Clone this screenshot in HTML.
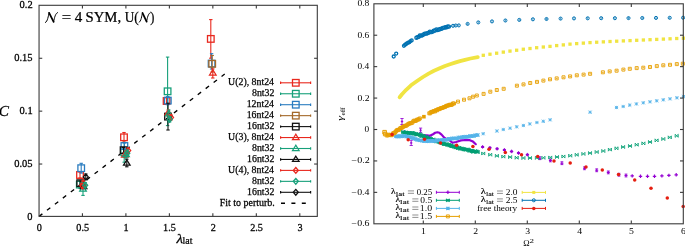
<!DOCTYPE html><html><head><meta charset="utf-8"><style>html,body{margin:0;padding:0;background:#fff;}svg{display:block;font-family:"Liberation Serif",serif;}#w{will-change:transform;width:685px;height:246px;overflow:hidden;}</style></head><body>
<div id="w"><svg width="685" height="246" viewBox="0 0 685 246">
<g font-family='"Liberation Serif", serif'>
<line x1="39.05" y1="216.4" x2="224.7" y2="74" stroke="#000" stroke-width="1.35" stroke-dasharray="4.2,5.8"/>
<line x1="80" y1="172" x2="80" y2="178" stroke="#e8281e" stroke-width="1.1"/>
<line x1="78.3" y1="172" x2="81.7" y2="172" stroke="#e8281e" stroke-width="1.1"/>
<line x1="78.3" y1="178" x2="81.7" y2="178" stroke="#e8281e" stroke-width="1.1"/>
<rect x="76.7" y="171.7" width="6.6" height="6.6" fill="none" stroke="#e8281e" stroke-width="1.3"/>
<line x1="124" y1="132.5" x2="124" y2="142.1" stroke="#e8281e" stroke-width="1.1"/>
<line x1="122.3" y1="132.5" x2="125.7" y2="132.5" stroke="#e8281e" stroke-width="1.1"/>
<line x1="122.3" y1="142.1" x2="125.7" y2="142.1" stroke="#e8281e" stroke-width="1.1"/>
<rect x="120.7" y="134" width="6.6" height="6.6" fill="none" stroke="#e8281e" stroke-width="1.3"/>
<line x1="166.6" y1="97.5" x2="166.6" y2="104.5" stroke="#e8281e" stroke-width="1.1"/>
<line x1="164.9" y1="97.5" x2="168.3" y2="97.5" stroke="#e8281e" stroke-width="1.1"/>
<line x1="164.9" y1="104.5" x2="168.3" y2="104.5" stroke="#e8281e" stroke-width="1.1"/>
<rect x="163.3" y="97.7" width="6.6" height="6.6" fill="none" stroke="#e8281e" stroke-width="1.3"/>
<line x1="210.8" y1="19.6" x2="210.8" y2="58.2" stroke="#e8281e" stroke-width="1.1"/>
<line x1="209.1" y1="19.6" x2="212.5" y2="19.6" stroke="#e8281e" stroke-width="1.1"/>
<line x1="209.1" y1="58.2" x2="212.5" y2="58.2" stroke="#e8281e" stroke-width="1.1"/>
<rect x="207.5" y="35.6" width="6.6" height="6.6" fill="none" stroke="#e8281e" stroke-width="1.3"/>
<line x1="79.8" y1="181" x2="79.8" y2="188.2" stroke="#17a07a" stroke-width="1.1"/>
<line x1="78.1" y1="181" x2="81.5" y2="181" stroke="#17a07a" stroke-width="1.1"/>
<line x1="78.1" y1="188.2" x2="81.5" y2="188.2" stroke="#17a07a" stroke-width="1.1"/>
<rect x="76.5" y="181.3" width="6.6" height="6.6" fill="none" stroke="#17a07a" stroke-width="1.3"/>
<line x1="124.2" y1="142.4" x2="124.2" y2="162.2" stroke="#17a07a" stroke-width="1.1"/>
<line x1="122.5" y1="142.4" x2="125.9" y2="142.4" stroke="#17a07a" stroke-width="1.1"/>
<line x1="122.5" y1="162.2" x2="125.9" y2="162.2" stroke="#17a07a" stroke-width="1.1"/>
<rect x="120.9" y="149" width="6.6" height="6.6" fill="none" stroke="#17a07a" stroke-width="1.3"/>
<line x1="167.6" y1="57.1" x2="167.6" y2="125.6" stroke="#17a07a" stroke-width="1.1"/>
<line x1="165.9" y1="57.1" x2="169.3" y2="57.1" stroke="#17a07a" stroke-width="1.1"/>
<line x1="165.9" y1="125.6" x2="169.3" y2="125.6" stroke="#17a07a" stroke-width="1.1"/>
<rect x="164.3" y="88" width="6.6" height="6.6" fill="none" stroke="#17a07a" stroke-width="1.3"/>
<line x1="81.2" y1="163.3" x2="81.2" y2="173.1" stroke="#2a7cc0" stroke-width="1.1"/>
<line x1="79.5" y1="163.3" x2="82.9" y2="163.3" stroke="#2a7cc0" stroke-width="1.1"/>
<line x1="79.5" y1="173.1" x2="82.9" y2="173.1" stroke="#2a7cc0" stroke-width="1.1"/>
<rect x="77.9" y="164.9" width="6.6" height="6.6" fill="none" stroke="#2a7cc0" stroke-width="1.3"/>
<line x1="124.4" y1="143" x2="124.4" y2="149" stroke="#2a7cc0" stroke-width="1.1"/>
<line x1="122.7" y1="143" x2="126.1" y2="143" stroke="#2a7cc0" stroke-width="1.1"/>
<line x1="122.7" y1="149" x2="126.1" y2="149" stroke="#2a7cc0" stroke-width="1.1"/>
<rect x="121.1" y="142.7" width="6.6" height="6.6" fill="none" stroke="#2a7cc0" stroke-width="1.3"/>
<line x1="167.8" y1="96.5" x2="167.8" y2="104.7" stroke="#2a7cc0" stroke-width="1.1"/>
<line x1="166.1" y1="96.5" x2="169.5" y2="96.5" stroke="#2a7cc0" stroke-width="1.1"/>
<line x1="166.1" y1="104.7" x2="169.5" y2="104.7" stroke="#2a7cc0" stroke-width="1.1"/>
<rect x="164.5" y="97.3" width="6.6" height="6.6" fill="none" stroke="#2a7cc0" stroke-width="1.3"/>
<line x1="211.6" y1="53.7" x2="211.6" y2="69" stroke="#2a7cc0" stroke-width="1.1"/>
<line x1="209.9" y1="53.7" x2="213.3" y2="53.7" stroke="#2a7cc0" stroke-width="1.1"/>
<line x1="209.9" y1="69" x2="213.3" y2="69" stroke="#2a7cc0" stroke-width="1.1"/>
<rect x="208.3" y="60.3" width="6.6" height="6.6" fill="none" stroke="#2a7cc0" stroke-width="1.3"/>
<line x1="212.2" y1="55.5" x2="212.2" y2="72" stroke="#a4692a" stroke-width="1.1"/>
<line x1="210.5" y1="55.5" x2="213.9" y2="55.5" stroke="#a4692a" stroke-width="1.1"/>
<line x1="210.5" y1="72" x2="213.9" y2="72" stroke="#a4692a" stroke-width="1.1"/>
<rect x="208.9" y="60.5" width="6.6" height="6.6" fill="none" stroke="#a4692a" stroke-width="1.3"/>
<line x1="80.2" y1="181" x2="80.2" y2="185.4" stroke="#111111" stroke-width="1.1"/>
<line x1="78.5" y1="181" x2="81.9" y2="181" stroke="#111111" stroke-width="1.1"/>
<line x1="78.5" y1="185.4" x2="81.9" y2="185.4" stroke="#111111" stroke-width="1.1"/>
<rect x="76.9" y="179.9" width="6.6" height="6.6" fill="none" stroke="#111111" stroke-width="1.3"/>
<line x1="123.6" y1="147.5" x2="123.6" y2="153" stroke="#111111" stroke-width="1.1"/>
<line x1="121.9" y1="147.5" x2="125.3" y2="147.5" stroke="#111111" stroke-width="1.1"/>
<line x1="121.9" y1="153" x2="125.3" y2="153" stroke="#111111" stroke-width="1.1"/>
<rect x="120.3" y="146.9" width="6.6" height="6.6" fill="none" stroke="#111111" stroke-width="1.3"/>
<line x1="168" y1="103.2" x2="168" y2="130" stroke="#111111" stroke-width="1.1"/>
<line x1="166.3" y1="103.2" x2="169.7" y2="103.2" stroke="#111111" stroke-width="1.1"/>
<line x1="166.3" y1="130" x2="169.7" y2="130" stroke="#111111" stroke-width="1.1"/>
<rect x="164.7" y="113.3" width="6.6" height="6.6" fill="none" stroke="#111111" stroke-width="1.3"/>
<line x1="83.2" y1="180.5" x2="83.2" y2="185.5" stroke="#e8281e" stroke-width="1.1"/>
<line x1="81.5" y1="180.5" x2="84.9" y2="180.5" stroke="#e8281e" stroke-width="1.1"/>
<line x1="81.5" y1="185.5" x2="84.9" y2="185.5" stroke="#e8281e" stroke-width="1.1"/>
<polygon points="83.2,179.73 79.9,185.01 86.5,185.01" fill="none" stroke="#e8281e" stroke-width="1.25"/>
<line x1="124.8" y1="153" x2="124.8" y2="157" stroke="#e8281e" stroke-width="1.1"/>
<line x1="123.1" y1="153" x2="126.5" y2="153" stroke="#e8281e" stroke-width="1.1"/>
<line x1="123.1" y1="157" x2="126.5" y2="157" stroke="#e8281e" stroke-width="1.1"/>
<polygon points="124.8,151.73 121.5,157.01 128.1,157.01" fill="none" stroke="#e8281e" stroke-width="1.25"/>
<line x1="168.2" y1="110" x2="168.2" y2="116" stroke="#e8281e" stroke-width="1.1"/>
<line x1="166.5" y1="110" x2="169.9" y2="110" stroke="#e8281e" stroke-width="1.1"/>
<line x1="166.5" y1="116" x2="169.9" y2="116" stroke="#e8281e" stroke-width="1.1"/>
<polygon points="168.2,109.53 164.9,114.81 171.5,114.81" fill="none" stroke="#e8281e" stroke-width="1.25"/>
<line x1="212.8" y1="68.9" x2="212.8" y2="78" stroke="#e8281e" stroke-width="1.1"/>
<line x1="211.1" y1="68.9" x2="214.5" y2="68.9" stroke="#e8281e" stroke-width="1.1"/>
<line x1="211.1" y1="78" x2="214.5" y2="78" stroke="#e8281e" stroke-width="1.1"/>
<polygon points="212.8,69.73 209.5,75.01 216.1,75.01" fill="none" stroke="#e8281e" stroke-width="1.25"/>
<line x1="83" y1="182.6" x2="83" y2="195.4" stroke="#17a07a" stroke-width="1.1"/>
<line x1="81.3" y1="182.6" x2="84.7" y2="182.6" stroke="#17a07a" stroke-width="1.1"/>
<line x1="81.3" y1="195.4" x2="84.7" y2="195.4" stroke="#17a07a" stroke-width="1.1"/>
<polygon points="83,185.73 79.7,191.01 86.3,191.01" fill="none" stroke="#17a07a" stroke-width="1.25"/>
<line x1="126" y1="151" x2="126" y2="158" stroke="#17a07a" stroke-width="1.1"/>
<line x1="124.3" y1="151" x2="127.7" y2="151" stroke="#17a07a" stroke-width="1.1"/>
<line x1="124.3" y1="158" x2="127.7" y2="158" stroke="#17a07a" stroke-width="1.1"/>
<polygon points="126,151.23 122.7,156.51 129.3,156.51" fill="none" stroke="#17a07a" stroke-width="1.25"/>
<line x1="168.8" y1="110" x2="168.8" y2="117.5" stroke="#17a07a" stroke-width="1.1"/>
<line x1="167.1" y1="110" x2="170.5" y2="110" stroke="#17a07a" stroke-width="1.1"/>
<line x1="167.1" y1="117.5" x2="170.5" y2="117.5" stroke="#17a07a" stroke-width="1.1"/>
<polygon points="168.8,110.53 165.5,115.81 172.1,115.81" fill="none" stroke="#17a07a" stroke-width="1.25"/>
<line x1="83.6" y1="184.5" x2="83.6" y2="188.5" stroke="#111111" stroke-width="1.1"/>
<line x1="81.9" y1="184.5" x2="85.3" y2="184.5" stroke="#111111" stroke-width="1.1"/>
<line x1="81.9" y1="188.5" x2="85.3" y2="188.5" stroke="#111111" stroke-width="1.1"/>
<polygon points="83.6,183.23 80.3,188.51 86.9,188.51" fill="none" stroke="#111111" stroke-width="1.25"/>
<line x1="126.8" y1="159.2" x2="126.8" y2="166.8" stroke="#111111" stroke-width="1.1"/>
<line x1="125.1" y1="159.2" x2="128.5" y2="159.2" stroke="#111111" stroke-width="1.1"/>
<line x1="125.1" y1="166.8" x2="128.5" y2="166.8" stroke="#111111" stroke-width="1.1"/>
<polygon points="126.8,159.93 123.5,165.21 130.1,165.21" fill="none" stroke="#111111" stroke-width="1.25"/>
<line x1="82.6" y1="183.5" x2="82.6" y2="188.5" stroke="#e8281e" stroke-width="1.1"/>
<line x1="80.9" y1="183.5" x2="84.3" y2="183.5" stroke="#e8281e" stroke-width="1.1"/>
<line x1="80.9" y1="188.5" x2="84.3" y2="188.5" stroke="#e8281e" stroke-width="1.1"/>
<polygon points="82.6,183.12 85.1,186 82.6,188.88 80.1,186" fill="none" stroke="#e8281e" stroke-width="1.3"/>
<line x1="128.2" y1="148" x2="128.2" y2="153" stroke="#e8281e" stroke-width="1.1"/>
<line x1="126.5" y1="148" x2="129.9" y2="148" stroke="#e8281e" stroke-width="1.1"/>
<line x1="126.5" y1="153" x2="129.9" y2="153" stroke="#e8281e" stroke-width="1.1"/>
<polygon points="128.2,147.62 130.7,150.5 128.2,153.38 125.7,150.5" fill="none" stroke="#e8281e" stroke-width="1.3"/>
<line x1="171" y1="115" x2="171" y2="120" stroke="#e8281e" stroke-width="1.1"/>
<line x1="169.3" y1="115" x2="172.7" y2="115" stroke="#e8281e" stroke-width="1.1"/>
<line x1="169.3" y1="120" x2="172.7" y2="120" stroke="#e8281e" stroke-width="1.1"/>
<polygon points="171,114.53 173.5,117.4 171,120.28 168.5,117.4" fill="none" stroke="#e8281e" stroke-width="1.3"/>
<line x1="85.2" y1="182.5" x2="85.2" y2="188" stroke="#17a07a" stroke-width="1.1"/>
<line x1="83.5" y1="182.5" x2="86.9" y2="182.5" stroke="#17a07a" stroke-width="1.1"/>
<line x1="83.5" y1="188" x2="86.9" y2="188" stroke="#17a07a" stroke-width="1.1"/>
<polygon points="85.2,182.32 87.7,185.2 85.2,188.07 82.7,185.2" fill="none" stroke="#17a07a" stroke-width="1.3"/>
<line x1="127.3" y1="150" x2="127.3" y2="156.4" stroke="#17a07a" stroke-width="1.1"/>
<line x1="125.6" y1="150" x2="129" y2="150" stroke="#17a07a" stroke-width="1.1"/>
<line x1="125.6" y1="156.4" x2="129" y2="156.4" stroke="#17a07a" stroke-width="1.1"/>
<polygon points="127.3,150.32 129.8,153.2 127.3,156.07 124.8,153.2" fill="none" stroke="#17a07a" stroke-width="1.3"/>
<line x1="169.6" y1="116.5" x2="169.6" y2="122" stroke="#17a07a" stroke-width="1.1"/>
<line x1="167.9" y1="116.5" x2="171.3" y2="116.5" stroke="#17a07a" stroke-width="1.1"/>
<line x1="167.9" y1="122" x2="171.3" y2="122" stroke="#17a07a" stroke-width="1.1"/>
<polygon points="169.6,116.42 172.1,119.3 169.6,122.17 167.1,119.3" fill="none" stroke="#17a07a" stroke-width="1.3"/>
<line x1="85.8" y1="174" x2="85.8" y2="179.8" stroke="#111111" stroke-width="1.1"/>
<line x1="84.1" y1="174" x2="87.5" y2="174" stroke="#111111" stroke-width="1.1"/>
<line x1="84.1" y1="179.8" x2="87.5" y2="179.8" stroke="#111111" stroke-width="1.1"/>
<polygon points="85.8,174.03 88.3,176.9 85.8,179.78 83.3,176.9" fill="none" stroke="#111111" stroke-width="1.3"/>
<rect x="39.05" y="5.3" width="278.25" height="211.1" fill="none" stroke="#3a3a3a" stroke-width="1.1"/>
<line x1="39.05" y1="164.03" x2="42.25" y2="164.03" stroke="#3a3a3a" stroke-width="1.1"/>
<line x1="317.3" y1="164.03" x2="314.1" y2="164.03" stroke="#3a3a3a" stroke-width="1.1"/>
<line x1="39.05" y1="111.15" x2="42.25" y2="111.15" stroke="#3a3a3a" stroke-width="1.1"/>
<line x1="317.3" y1="111.15" x2="314.1" y2="111.15" stroke="#3a3a3a" stroke-width="1.1"/>
<line x1="39.05" y1="58.28" x2="42.25" y2="58.28" stroke="#3a3a3a" stroke-width="1.1"/>
<line x1="317.3" y1="58.28" x2="314.1" y2="58.28" stroke="#3a3a3a" stroke-width="1.1"/>
<line x1="82.43" y1="216.4" x2="82.43" y2="213.2" stroke="#3a3a3a" stroke-width="1.1"/>
<line x1="82.43" y1="5.3" x2="82.43" y2="8.5" stroke="#3a3a3a" stroke-width="1.1"/>
<line x1="125.9" y1="216.4" x2="125.9" y2="213.2" stroke="#3a3a3a" stroke-width="1.1"/>
<line x1="125.9" y1="5.3" x2="125.9" y2="8.5" stroke="#3a3a3a" stroke-width="1.1"/>
<line x1="169.38" y1="216.4" x2="169.38" y2="213.2" stroke="#3a3a3a" stroke-width="1.1"/>
<line x1="169.38" y1="5.3" x2="169.38" y2="8.5" stroke="#3a3a3a" stroke-width="1.1"/>
<line x1="212.85" y1="216.4" x2="212.85" y2="213.2" stroke="#3a3a3a" stroke-width="1.1"/>
<line x1="212.85" y1="5.3" x2="212.85" y2="8.5" stroke="#3a3a3a" stroke-width="1.1"/>
<line x1="256.32" y1="216.4" x2="256.32" y2="213.2" stroke="#3a3a3a" stroke-width="1.1"/>
<line x1="256.32" y1="5.3" x2="256.32" y2="8.5" stroke="#3a3a3a" stroke-width="1.1"/>
<line x1="299.8" y1="216.4" x2="299.8" y2="213.2" stroke="#3a3a3a" stroke-width="1.1"/>
<line x1="299.8" y1="5.3" x2="299.8" y2="8.5" stroke="#3a3a3a" stroke-width="1.1"/>
<text transform="translate(27.27 219.5) scale(1.0500 1)" font-size="10.000" fill="#000" stroke="#000" stroke-width="0.25">0</text>
<text transform="translate(14.14 167.12) scale(1.0500 1)" font-size="10.000" fill="#000" stroke="#000" stroke-width="0.25">0.05</text>
<text transform="translate(19.61 114.25) scale(1.0500 1)" font-size="10.000" fill="#000" stroke="#000" stroke-width="0.25">0.1</text>
<text transform="translate(14.14 61.38) scale(1.0500 1)" font-size="10.000" fill="#000" stroke="#000" stroke-width="0.25">0.15</text>
<text transform="translate(19.55 8.4) scale(1.0500 1)" font-size="10.000" fill="#000" stroke="#000" stroke-width="0.25">0.2</text>
<text transform="translate(36.7 230.8) scale(1.0200 1)" font-size="10.000" fill="#000" stroke="#000" stroke-width="0.25">0</text>
<text transform="translate(76.35 230.8) scale(1.0200 1)" font-size="10.000" fill="#000" stroke="#000" stroke-width="0.25">0.5</text>
<text transform="translate(123.52 230.8) scale(1.0200 1)" font-size="10.000" fill="#000" stroke="#000" stroke-width="0.25">1</text>
<text transform="translate(163.07 230.8) scale(1.0200 1)" font-size="10.000" fill="#000" stroke="#000" stroke-width="0.25">1.5</text>
<text transform="translate(210.65 230.8) scale(1.0200 1)" font-size="10.000" fill="#000" stroke="#000" stroke-width="0.25">2</text>
<text transform="translate(250.22 230.8) scale(1.0200 1)" font-size="10.000" fill="#000" stroke="#000" stroke-width="0.25">2.5</text>
<text transform="translate(297.52 230.8) scale(1.0200 1)" font-size="10.000" fill="#000" stroke="#000" stroke-width="0.25">3</text>
<text transform="translate(-1.24 116.15) scale(0.9967 1)" font-size="15.373" font-style="italic" fill="#000" stroke="#000" stroke-width="0.25">C</text>
<text transform="translate(176.47 242.7) scale(1.1089 1)" font-size="13.475" font-style="italic" fill="#000" stroke="#000" stroke-width="0.25">λ</text>
<text transform="translate(182.6 244.2) scale(1.0112 1)" font-size="9.787" fill="#000" stroke="#000" stroke-width="0.25">lat</text>
<path d="M45.45 22.5 C47.72 21.58 48.22 15.97 49.11 12.71" stroke="#000" stroke-width="1.0" fill="none" stroke-linecap="round"/>
<path d="M49.11 12.81 L53.64 21.78" stroke="#000" stroke-width="1.75" fill="none" stroke-linecap="round"/>
<path d="M53.64 21.78 C54.52 17.5 55.28 13.42 57.55 12.6" stroke="#000" stroke-width="0.95" fill="none" stroke-linecap="round"/>
<text transform="translate(61.86 22) scale(1.1334 1)" font-size="14.800" fill="#000" stroke="#000" stroke-width="0.25">=</text>
<text transform="translate(74.7 22) scale(1.0171 1)" font-size="14.800" fill="#000" stroke="#000" stroke-width="0.25">4</text>
<text transform="translate(85.44 22) scale(0.9973 1)" font-size="14.800" fill="#000" stroke="#000" stroke-width="0.25">SYM,</text>
<text transform="translate(124.73 22) scale(0.8986 1)" font-size="14.800" fill="#000" stroke="#000" stroke-width="0.25">U(</text>
<path d="M139.13 22.3 C141.2 21.42 141.66 16.03 142.47 12.89" stroke="#000" stroke-width="1.0" fill="none" stroke-linecap="round"/>
<path d="M142.47 12.99 L146.61 21.62" stroke="#000" stroke-width="1.75" fill="none" stroke-linecap="round"/>
<path d="M146.61 21.62 C147.41 17.5 148.1 13.58 150.17 12.8" stroke="#000" stroke-width="0.95" fill="none" stroke-linecap="round"/>
<text transform="translate(150.13 22) scale(0.8316 1)" font-size="14.800" fill="#000" stroke="#000" stroke-width="0.25">)</text>
<text transform="translate(228.1 85.2) scale(1.0000 1)" font-size="9.850" fill="#000" stroke="#000" stroke-width="0.25">U(2), 8nt24</text>
<line x1="280.6" y1="82.8" x2="310.6" y2="82.8" stroke="#e8281e" stroke-width="1.1"/>
<line x1="280.6" y1="81.6" x2="280.6" y2="84" stroke="#e8281e" stroke-width="1.2"/>
<line x1="310.6" y1="81.6" x2="310.6" y2="84" stroke="#e8281e" stroke-width="1.2"/>
<rect x="292.5" y="79.5" width="6.6" height="6.6" fill="none" stroke="#e8281e" stroke-width="1.3"/>
<text transform="translate(251.98 96.15) scale(1.0000 1)" font-size="9.850" fill="#000" stroke="#000" stroke-width="0.25">8nt32</text>
<line x1="280.6" y1="93.75" x2="310.6" y2="93.75" stroke="#17a07a" stroke-width="1.1"/>
<line x1="280.6" y1="92.55" x2="280.6" y2="94.95" stroke="#17a07a" stroke-width="1.2"/>
<line x1="310.6" y1="92.55" x2="310.6" y2="94.95" stroke="#17a07a" stroke-width="1.2"/>
<rect x="292.5" y="90.45" width="6.6" height="6.6" fill="none" stroke="#17a07a" stroke-width="1.3"/>
<text transform="translate(246.66 107.1) scale(1.0000 1)" font-size="9.850" fill="#000" stroke="#000" stroke-width="0.25">12nt24</text>
<line x1="280.6" y1="104.7" x2="310.6" y2="104.7" stroke="#2a7cc0" stroke-width="1.1"/>
<line x1="280.6" y1="103.5" x2="280.6" y2="105.9" stroke="#2a7cc0" stroke-width="1.2"/>
<line x1="310.6" y1="103.5" x2="310.6" y2="105.9" stroke="#2a7cc0" stroke-width="1.2"/>
<rect x="292.5" y="101.4" width="6.6" height="6.6" fill="none" stroke="#2a7cc0" stroke-width="1.3"/>
<text transform="translate(246.66 118.05) scale(1.0000 1)" font-size="9.850" fill="#000" stroke="#000" stroke-width="0.25">16nt24</text>
<line x1="280.6" y1="115.65" x2="310.6" y2="115.65" stroke="#a4692a" stroke-width="1.1"/>
<line x1="280.6" y1="114.45" x2="280.6" y2="116.85" stroke="#a4692a" stroke-width="1.2"/>
<line x1="310.6" y1="114.45" x2="310.6" y2="116.85" stroke="#a4692a" stroke-width="1.2"/>
<rect x="292.5" y="112.35" width="6.6" height="6.6" fill="none" stroke="#a4692a" stroke-width="1.3"/>
<text transform="translate(247.06 129) scale(1.0000 1)" font-size="9.850" fill="#000" stroke="#000" stroke-width="0.25">16nt32</text>
<line x1="280.6" y1="126.6" x2="310.6" y2="126.6" stroke="#111111" stroke-width="1.1"/>
<line x1="280.6" y1="125.4" x2="280.6" y2="127.8" stroke="#111111" stroke-width="1.2"/>
<line x1="310.6" y1="125.4" x2="310.6" y2="127.8" stroke="#111111" stroke-width="1.2"/>
<rect x="292.5" y="123.3" width="6.6" height="6.6" fill="none" stroke="#111111" stroke-width="1.3"/>
<text transform="translate(228.1 139.95) scale(1.0000 1)" font-size="9.850" fill="#000" stroke="#000" stroke-width="0.25">U(3), 8nt24</text>
<line x1="280.6" y1="137.55" x2="310.6" y2="137.55" stroke="#e8281e" stroke-width="1.1"/>
<line x1="280.6" y1="136.35" x2="280.6" y2="138.75" stroke="#e8281e" stroke-width="1.2"/>
<line x1="310.6" y1="136.35" x2="310.6" y2="138.75" stroke="#e8281e" stroke-width="1.2"/>
<polygon points="295.8,134.28 292.5,139.56 299.1,139.56" fill="none" stroke="#e8281e" stroke-width="1.25"/>
<text transform="translate(251.98 150.9) scale(1.0000 1)" font-size="9.850" fill="#000" stroke="#000" stroke-width="0.25">8nt32</text>
<line x1="280.6" y1="148.5" x2="310.6" y2="148.5" stroke="#17a07a" stroke-width="1.1"/>
<line x1="280.6" y1="147.3" x2="280.6" y2="149.7" stroke="#17a07a" stroke-width="1.2"/>
<line x1="310.6" y1="147.3" x2="310.6" y2="149.7" stroke="#17a07a" stroke-width="1.2"/>
<polygon points="295.8,145.23 292.5,150.51 299.1,150.51" fill="none" stroke="#17a07a" stroke-width="1.25"/>
<text transform="translate(247.06 161.85) scale(1.0000 1)" font-size="9.850" fill="#000" stroke="#000" stroke-width="0.25">16nt32</text>
<line x1="280.6" y1="159.45" x2="310.6" y2="159.45" stroke="#111111" stroke-width="1.1"/>
<line x1="280.6" y1="158.25" x2="280.6" y2="160.65" stroke="#111111" stroke-width="1.2"/>
<line x1="310.6" y1="158.25" x2="310.6" y2="160.65" stroke="#111111" stroke-width="1.2"/>
<polygon points="295.8,156.18 292.5,161.46 299.1,161.46" fill="none" stroke="#111111" stroke-width="1.25"/>
<text transform="translate(228.1 172.8) scale(1.0000 1)" font-size="9.850" fill="#000" stroke="#000" stroke-width="0.25">U(4), 8nt24</text>
<line x1="280.6" y1="170.4" x2="310.6" y2="170.4" stroke="#e8281e" stroke-width="1.1"/>
<line x1="280.6" y1="169.2" x2="280.6" y2="171.6" stroke="#e8281e" stroke-width="1.2"/>
<line x1="310.6" y1="169.2" x2="310.6" y2="171.6" stroke="#e8281e" stroke-width="1.2"/>
<polygon points="295.8,167.52 298.3,170.4 295.8,173.27 293.3,170.4" fill="none" stroke="#e8281e" stroke-width="1.3"/>
<text transform="translate(251.98 183.75) scale(1.0000 1)" font-size="9.850" fill="#000" stroke="#000" stroke-width="0.25">8nt32</text>
<line x1="280.6" y1="181.35" x2="310.6" y2="181.35" stroke="#17a07a" stroke-width="1.1"/>
<line x1="280.6" y1="180.15" x2="280.6" y2="182.55" stroke="#17a07a" stroke-width="1.2"/>
<line x1="310.6" y1="180.15" x2="310.6" y2="182.55" stroke="#17a07a" stroke-width="1.2"/>
<polygon points="295.8,178.47 298.3,181.35 295.8,184.22 293.3,181.35" fill="none" stroke="#17a07a" stroke-width="1.3"/>
<text transform="translate(247.06 194.7) scale(1.0000 1)" font-size="9.850" fill="#000" stroke="#000" stroke-width="0.25">16nt32</text>
<line x1="280.6" y1="192.3" x2="310.6" y2="192.3" stroke="#111111" stroke-width="1.1"/>
<line x1="280.6" y1="191.1" x2="280.6" y2="193.5" stroke="#111111" stroke-width="1.2"/>
<line x1="310.6" y1="191.1" x2="310.6" y2="193.5" stroke="#111111" stroke-width="1.2"/>
<polygon points="295.8,189.43 298.3,192.3 295.8,195.18 293.3,192.3" fill="none" stroke="#111111" stroke-width="1.3"/>
<text transform="translate(219.8 206.2) scale(1.0064 1)" font-size="9.900" fill="#000" stroke="#000" stroke-width="0.25">Fit to perturb.</text>
<line x1="281" y1="203.25" x2="306" y2="203.25" stroke="#000" stroke-width="1.3" stroke-dasharray="4,6.4"/>
</g>
<g font-family='"Liberation Serif", serif'>
<line x1="402" y1="118.5" x2="402" y2="124.5" stroke="#9400d3" stroke-width="0.85"/>
<line x1="400.4" y1="118.5" x2="403.6" y2="118.5" stroke="#9400d3" stroke-width="0.85"/>
<line x1="400.4" y1="124.5" x2="403.6" y2="124.5" stroke="#9400d3" stroke-width="0.85"/>
<path d="M400.8 121.5H403.2M402 120.3V122.7" stroke="#9400d3" stroke-width="0.85" fill="none"/>
<line x1="420.6" y1="128.1" x2="420.6" y2="132.4" stroke="#9400d3" stroke-width="0.85"/>
<line x1="419" y1="128.1" x2="422.2" y2="128.1" stroke="#9400d3" stroke-width="0.85"/>
<line x1="419" y1="132.4" x2="422.2" y2="132.4" stroke="#9400d3" stroke-width="0.85"/>
<path d="M419.4 130.25H421.8M420.6 129.05V131.45" stroke="#9400d3" stroke-width="0.85" fill="none"/>
<line x1="411.2" y1="140.3" x2="411.2" y2="145.5" stroke="#9400d3" stroke-width="0.85"/>
<line x1="409.6" y1="140.3" x2="412.8" y2="140.3" stroke="#9400d3" stroke-width="0.85"/>
<line x1="409.6" y1="145.5" x2="412.8" y2="145.5" stroke="#9400d3" stroke-width="0.85"/>
<path d="M410 142.9H412.4M411.2 141.7V144.1" stroke="#9400d3" stroke-width="0.85" fill="none"/>
<path d="M404 131.5 L410 133 L416 134.3 L422 135.3 L427 135.3 L430 135.8 L433 134.2 L435.2 132.8 L437.4 132.3 L439.4 132.8 L441.6 134.6 L444.3 137.7 L447 139.3 L450 140.6 L452.4 142.8 L456 142 L461 140.4 L465 140 L469.8 140.2 L473 141.6 L475.8 144.2" stroke="#9400d3" stroke-width="2.2" fill="none" stroke-linecap="round" stroke-linejoin="round"/>
<ellipse cx="482.6" cy="146.9" rx="1.75" ry="1.2" fill="#9400d3"/>
<line x1="482.6" y1="145.1" x2="482.6" y2="148.7" stroke="#9400d3" stroke-width="0.9"/>
<ellipse cx="489.9" cy="147.8" rx="1.75" ry="1.2" fill="#9400d3"/>
<line x1="489.9" y1="146" x2="489.9" y2="149.6" stroke="#9400d3" stroke-width="0.9"/>
<ellipse cx="497.1" cy="148.8" rx="1.75" ry="1.2" fill="#9400d3"/>
<line x1="497.1" y1="147" x2="497.1" y2="150.6" stroke="#9400d3" stroke-width="0.9"/>
<ellipse cx="504.4" cy="149.9" rx="1.75" ry="1.2" fill="#9400d3"/>
<line x1="504.4" y1="148.1" x2="504.4" y2="151.7" stroke="#9400d3" stroke-width="0.9"/>
<ellipse cx="511.6" cy="151.4" rx="1.75" ry="1.2" fill="#9400d3"/>
<line x1="511.6" y1="149.6" x2="511.6" y2="153.2" stroke="#9400d3" stroke-width="0.9"/>
<ellipse cx="518.5" cy="153" rx="1.75" ry="1.2" fill="#9400d3"/>
<line x1="518.5" y1="151.2" x2="518.5" y2="154.8" stroke="#9400d3" stroke-width="0.9"/>
<ellipse cx="527.4" cy="154.7" rx="1.75" ry="1.2" fill="#9400d3"/>
<line x1="527.4" y1="152.9" x2="527.4" y2="156.5" stroke="#9400d3" stroke-width="0.9"/>
<path d="M538.3 158.2H541.3M539.8 156.7V159.7" stroke="#9400d3" stroke-width="1.1" fill="none"/>
<line x1="538.4" y1="156.8" x2="541.2" y2="156.8" stroke="#9400d3" stroke-width="0.9"/>
<line x1="538.4" y1="159.6" x2="541.2" y2="159.6" stroke="#9400d3" stroke-width="0.9"/>
<path d="M548.9 160.4H551.9M550.4 158.9V161.9" stroke="#9400d3" stroke-width="1.1" fill="none"/>
<line x1="549" y1="159" x2="551.8" y2="159" stroke="#9400d3" stroke-width="0.9"/>
<line x1="549" y1="161.8" x2="551.8" y2="161.8" stroke="#9400d3" stroke-width="0.9"/>
<path d="M560.4 163.2H563.4M561.9 161.7V164.7" stroke="#9400d3" stroke-width="1.1" fill="none"/>
<line x1="560.5" y1="161.8" x2="563.3" y2="161.8" stroke="#9400d3" stroke-width="0.9"/>
<line x1="560.5" y1="164.6" x2="563.3" y2="164.6" stroke="#9400d3" stroke-width="0.9"/>
<path d="M583 168.3H586M584.5 166.8V169.8" stroke="#9400d3" stroke-width="1.1" fill="none"/>
<line x1="583.1" y1="166.9" x2="585.9" y2="166.9" stroke="#9400d3" stroke-width="0.9"/>
<line x1="583.1" y1="169.7" x2="585.9" y2="169.7" stroke="#9400d3" stroke-width="0.9"/>
<path d="M595.2 170.3H598.2M596.7 168.8V171.8" stroke="#9400d3" stroke-width="1.1" fill="none"/>
<line x1="595.3" y1="168.9" x2="598.1" y2="168.9" stroke="#9400d3" stroke-width="0.9"/>
<line x1="595.3" y1="171.7" x2="598.1" y2="171.7" stroke="#9400d3" stroke-width="0.9"/>
<path d="M606.8 172.4H609.8M608.3 170.9V173.9" stroke="#9400d3" stroke-width="1.1" fill="none"/>
<line x1="606.9" y1="171" x2="609.7" y2="171" stroke="#9400d3" stroke-width="0.9"/>
<line x1="606.9" y1="173.8" x2="609.7" y2="173.8" stroke="#9400d3" stroke-width="0.9"/>
<path d="M617.5 174.7H620.5M619 173.2V176.2" stroke="#9400d3" stroke-width="1.1" fill="none"/>
<line x1="617.6" y1="173.3" x2="620.4" y2="173.3" stroke="#9400d3" stroke-width="0.9"/>
<line x1="617.6" y1="176.1" x2="620.4" y2="176.1" stroke="#9400d3" stroke-width="0.9"/>
<path d="M624.5 175.5H627.5M626 174V177" stroke="#9400d3" stroke-width="1.1" fill="none"/>
<line x1="624.6" y1="174.1" x2="627.4" y2="174.1" stroke="#9400d3" stroke-width="0.9"/>
<line x1="624.6" y1="176.9" x2="627.4" y2="176.9" stroke="#9400d3" stroke-width="0.9"/>
<path d="M630.5 175.9H633.9M632.2 174.2V177.6" stroke="#9400d3" stroke-width="1.2" fill="none"/>
<path d="M638.8 176.3H642.2M640.5 174.6V178" stroke="#9400d3" stroke-width="1.2" fill="none"/>
<path d="M645.8 176.3H649.2M647.5 174.6V178" stroke="#9400d3" stroke-width="1.2" fill="none"/>
<path d="M652.8 176.3H656.2M654.5 174.6V178" stroke="#9400d3" stroke-width="1.2" fill="none"/>
<path d="M660.2 175.9H663.6M661.9 174.2V177.6" stroke="#9400d3" stroke-width="1.2" fill="none"/>
<path d="M667.2 175.4H670.6M668.9 173.7V177.1" stroke="#9400d3" stroke-width="1.2" fill="none"/>
<path d="M674.5 174.8H677.9M676.2 173.1V176.5" stroke="#9400d3" stroke-width="1.2" fill="none"/>
<path d="M403.3 132.3 L408 132.8 L413 133.4 L417 134.2 L420.4 135.2 L425 137 L432 139.5 L440.7 142.6 L450 145.5 L456.9 147.5 L465 149.5 L472 150.9 L477.5 152" stroke="#009e73" stroke-width="2.6" fill="none" stroke-linecap="round" stroke-linejoin="round"/>
<path d="M401.6 130.18L405 133.58M401.6 133.58L405 130.18M401.6 130.18V133.58M405 130.18V133.58" stroke="#009e73" stroke-width="1" fill="none"/>
<path d="M402.78 131L406.18 134.4M402.78 134.4L406.18 131M402.78 131V134.4M406.18 131V134.4" stroke="#009e73" stroke-width="1" fill="none"/>
<path d="M403.95 130.79L407.35 134.19M403.95 134.19L407.35 130.79M403.95 130.79V134.19M407.35 130.79V134.19" stroke="#009e73" stroke-width="1" fill="none"/>
<path d="M405.12 131.2L408.52 134.6M405.12 134.6L408.52 131.2M405.12 131.2V134.6M408.52 131.2V134.6" stroke="#009e73" stroke-width="1" fill="none"/>
<path d="M406.3 131.58L409.7 134.98M406.3 134.98L409.7 131.58M406.3 131.58V134.98M409.7 131.58V134.98" stroke="#009e73" stroke-width="1" fill="none"/>
<path d="M407.55 131.29L410.95 134.69M407.55 134.69L410.95 131.29M407.55 131.29V134.69M410.95 131.29V134.69" stroke="#009e73" stroke-width="1" fill="none"/>
<path d="M408.8 131.4L412.2 134.8M408.8 134.8L412.2 131.4M408.8 131.4V134.8M412.2 131.4V134.8" stroke="#009e73" stroke-width="1" fill="none"/>
<path d="M410.05 131.12L413.45 134.52M410.05 134.52L413.45 131.12M410.05 131.12V134.52M413.45 131.12V134.52" stroke="#009e73" stroke-width="1" fill="none"/>
<path d="M411.3 131.47L414.7 134.87M411.3 134.87L414.7 131.47M411.3 131.47V134.87M414.7 131.47V134.87" stroke="#009e73" stroke-width="1" fill="none"/>
<path d="M412.63 131.97L416.03 135.37M412.63 135.37L416.03 131.97M412.63 131.97V135.37M416.03 131.97V135.37" stroke="#009e73" stroke-width="1" fill="none"/>
<path d="M413.97 132.41L417.37 135.81M413.97 135.81L417.37 132.41M413.97 132.41V135.81M417.37 132.41V135.81" stroke="#009e73" stroke-width="1" fill="none"/>
<path d="M415.3 132.8L418.7 136.2M415.3 136.2L418.7 132.8M415.3 132.8V136.2M418.7 132.8V136.2" stroke="#009e73" stroke-width="1" fill="none"/>
<path d="M416.43 132.71L419.83 136.11M416.43 136.11L419.83 132.71M416.43 132.71V136.11M419.83 132.71V136.11" stroke="#009e73" stroke-width="1" fill="none"/>
<path d="M417.57 132.73L420.97 136.13M417.57 136.13L420.97 132.73M417.57 132.73V136.13M420.97 132.73V136.13" stroke="#009e73" stroke-width="1" fill="none"/>
<path d="M418.7 133.29L422.1 136.69M418.7 136.69L422.1 133.29M418.7 133.29V136.69M422.1 133.29V136.69" stroke="#009e73" stroke-width="1" fill="none"/>
<path d="M419.85 134.36L423.25 137.76M419.85 137.76L423.25 134.36M419.85 134.36V137.76M423.25 134.36V137.76" stroke="#009e73" stroke-width="1" fill="none"/>
<path d="M421 134.11L424.4 137.51M421 137.51L424.4 134.11M421 134.11V137.51M424.4 134.11V137.51" stroke="#009e73" stroke-width="1" fill="none"/>
<path d="M422.15 134.8L425.55 138.2M422.15 138.2L425.55 134.8M422.15 134.8V138.2M425.55 134.8V138.2" stroke="#009e73" stroke-width="1" fill="none"/>
<path d="M423.3 135.73L426.7 139.13M423.3 139.13L426.7 135.73M423.3 135.73V139.13M426.7 135.73V139.13" stroke="#009e73" stroke-width="1" fill="none"/>
<path d="M424.47 135.24L427.87 138.64M424.47 138.64L427.87 135.24M424.47 135.24V138.64M427.87 135.24V138.64" stroke="#009e73" stroke-width="1" fill="none"/>
<path d="M425.63 136.23L429.03 139.63M425.63 139.63L429.03 136.23M425.63 136.23V139.63M429.03 136.23V139.63" stroke="#009e73" stroke-width="1" fill="none"/>
<path d="M426.8 137L430.2 140.4M426.8 140.4L430.2 137M426.8 137V140.4M430.2 137V140.4" stroke="#009e73" stroke-width="1" fill="none"/>
<path d="M427.97 136.7L431.37 140.1M427.97 140.1L431.37 136.7M427.97 136.7V140.1M431.37 136.7V140.1" stroke="#009e73" stroke-width="1" fill="none"/>
<path d="M429.13 137.43L432.53 140.83M429.13 140.83L432.53 137.43M429.13 137.43V140.83M432.53 137.43V140.83" stroke="#009e73" stroke-width="1" fill="none"/>
<path d="M430.3 138.21L433.7 141.61M430.3 141.61L433.7 138.21M430.3 138.21V141.61M433.7 138.21V141.61" stroke="#009e73" stroke-width="1" fill="none"/>
<path d="M431.39 137.82L434.79 141.22M431.39 141.22L434.79 137.82M431.39 137.82V141.22M434.79 137.82V141.22" stroke="#009e73" stroke-width="1" fill="none"/>
<path d="M432.48 138.6L435.88 142M432.48 142L435.88 138.6M432.48 138.6V142M435.88 138.6V142" stroke="#009e73" stroke-width="1" fill="none"/>
<path d="M433.56 139.21L436.96 142.61M433.56 142.61L436.96 139.21M433.56 139.21V142.61M436.96 139.21V142.61" stroke="#009e73" stroke-width="1" fill="none"/>
<path d="M434.65 139.52L438.05 142.92M434.65 142.92L438.05 139.52M434.65 139.52V142.92M438.05 139.52V142.92" stroke="#009e73" stroke-width="1" fill="none"/>
<path d="M435.74 139.71L439.14 143.11M435.74 143.11L439.14 139.71M435.74 139.71V143.11M439.14 139.71V143.11" stroke="#009e73" stroke-width="1" fill="none"/>
<path d="M436.82 139.83L440.22 143.23M436.82 143.23L440.22 139.83M436.82 139.83V143.23M440.22 139.83V143.23" stroke="#009e73" stroke-width="1" fill="none"/>
<path d="M437.91 140.5L441.31 143.9M437.91 143.9L441.31 140.5M437.91 140.5V143.9M441.31 140.5V143.9" stroke="#009e73" stroke-width="1" fill="none"/>
<path d="M439 140.77L442.4 144.17M439 144.17L442.4 140.77M439 140.77V144.17M442.4 140.77V144.17" stroke="#009e73" stroke-width="1" fill="none"/>
<path d="M440.16 141.24L443.56 144.64M440.16 144.64L443.56 141.24M440.16 141.24V144.64M443.56 141.24V144.64" stroke="#009e73" stroke-width="1" fill="none"/>
<path d="M441.32 141.49L444.72 144.89M441.32 144.89L444.72 141.49M441.32 141.49V144.89M444.72 141.49V144.89" stroke="#009e73" stroke-width="1" fill="none"/>
<path d="M442.49 142.33L445.89 145.73M442.49 145.73L445.89 142.33M442.49 142.33V145.73M445.89 142.33V145.73" stroke="#009e73" stroke-width="1" fill="none"/>
<path d="M443.65 142.62L447.05 146.02M443.65 146.02L447.05 142.62M443.65 142.62V146.02M447.05 142.62V146.02" stroke="#009e73" stroke-width="1" fill="none"/>
<path d="M444.81 142.53L448.21 145.93M444.81 145.93L448.21 142.53M444.81 142.53V145.93M448.21 142.53V145.93" stroke="#009e73" stroke-width="1" fill="none"/>
<path d="M445.98 143.15L449.38 146.55M445.98 146.55L449.38 143.15M445.98 143.15V146.55M449.38 143.15V146.55" stroke="#009e73" stroke-width="1" fill="none"/>
<path d="M447.14 143.21L450.54 146.61M447.14 146.61L450.54 143.21M447.14 143.21V146.61M450.54 143.21V146.61" stroke="#009e73" stroke-width="1" fill="none"/>
<path d="M448.3 143.75L451.7 147.15M448.3 147.15L451.7 143.75M448.3 143.75V147.15M451.7 143.75V147.15" stroke="#009e73" stroke-width="1" fill="none"/>
<path d="M449.45 143.99L452.85 147.39M449.45 147.39L452.85 143.99M449.45 143.99V147.39M452.85 143.99V147.39" stroke="#009e73" stroke-width="1" fill="none"/>
<path d="M450.6 144.62L454 148.02M450.6 148.02L454 144.62M450.6 144.62V148.02M454 144.62V148.02" stroke="#009e73" stroke-width="1" fill="none"/>
<path d="M451.75 144.67L455.15 148.07M451.75 148.07L455.15 144.67M451.75 144.67V148.07M455.15 144.67V148.07" stroke="#009e73" stroke-width="1" fill="none"/>
<path d="M452.9 145.09L456.3 148.49M452.9 148.49L456.3 145.09M452.9 145.09V148.49M456.3 145.09V148.49" stroke="#009e73" stroke-width="1" fill="none"/>
<path d="M454.05 145.69L457.45 149.09M454.05 149.09L457.45 145.69M454.05 145.69V149.09M457.45 145.69V149.09" stroke="#009e73" stroke-width="1" fill="none"/>
<path d="M455.2 145.71L458.6 149.11M455.2 149.11L458.6 145.71M455.2 145.71V149.11M458.6 145.71V149.11" stroke="#009e73" stroke-width="1" fill="none"/>
<path d="M456.36 146.49L459.76 149.89M456.36 149.89L459.76 146.49M456.36 146.49V149.89M459.76 146.49V149.89" stroke="#009e73" stroke-width="1" fill="none"/>
<path d="M457.51 146.05L460.91 149.45M457.51 149.45L460.91 146.05M457.51 146.05V149.45M460.91 146.05V149.45" stroke="#009e73" stroke-width="1" fill="none"/>
<path d="M458.67 146.9L462.07 150.3M458.67 150.3L462.07 146.9M458.67 146.9V150.3M462.07 146.9V150.3" stroke="#009e73" stroke-width="1" fill="none"/>
<path d="M459.83 146.87L463.23 150.27M459.83 150.27L463.23 146.87M459.83 146.87V150.27M463.23 146.87V150.27" stroke="#009e73" stroke-width="1" fill="none"/>
<path d="M460.99 147.16L464.39 150.56M460.99 150.56L464.39 147.16M460.99 147.16V150.56M464.39 147.16V150.56" stroke="#009e73" stroke-width="1" fill="none"/>
<path d="M462.14 147.65L465.54 151.05M462.14 151.05L465.54 147.65M462.14 147.65V151.05M465.54 147.65V151.05" stroke="#009e73" stroke-width="1" fill="none"/>
<path d="M463.3 147.82L466.7 151.22M463.3 151.22L466.7 147.82M463.3 147.82V151.22M466.7 147.82V151.22" stroke="#009e73" stroke-width="1" fill="none"/>
<path d="M464.47 147.95L467.87 151.35M464.47 151.35L467.87 147.95M464.47 147.95V151.35M467.87 147.95V151.35" stroke="#009e73" stroke-width="1" fill="none"/>
<path d="M465.63 147.77L469.03 151.17M465.63 151.17L469.03 147.77M465.63 147.77V151.17M469.03 147.77V151.17" stroke="#009e73" stroke-width="1" fill="none"/>
<path d="M466.8 148.09L470.2 151.49M466.8 151.49L470.2 148.09M466.8 148.09V151.49M470.2 148.09V151.49" stroke="#009e73" stroke-width="1" fill="none"/>
<path d="M467.97 148.94L471.37 152.34M467.97 152.34L471.37 148.94M467.97 148.94V152.34M471.37 148.94V152.34" stroke="#009e73" stroke-width="1" fill="none"/>
<path d="M469.13 148.99L472.53 152.39M469.13 152.39L472.53 148.99M469.13 148.99V152.39M472.53 148.99V152.39" stroke="#009e73" stroke-width="1" fill="none"/>
<path d="M470.3 149.4L473.7 152.8M470.3 152.8L473.7 149.4M470.3 149.4V152.8M473.7 149.4V152.8" stroke="#009e73" stroke-width="1" fill="none"/>
<path d="M471.4 149.88L474.8 153.28M471.4 153.28L474.8 149.88M471.4 149.88V153.28M474.8 149.88V153.28" stroke="#009e73" stroke-width="1" fill="none"/>
<path d="M472.5 149.82L475.9 153.22M472.5 153.22L475.9 149.82M472.5 149.82V153.22M475.9 149.82V153.22" stroke="#009e73" stroke-width="1" fill="none"/>
<path d="M473.6 149.41L477 152.81M473.6 152.81L477 149.41M473.6 149.41V152.81M477 149.41V152.81" stroke="#009e73" stroke-width="1" fill="none"/>
<path d="M474.7 149.89L478.1 153.29M474.7 153.29L478.1 149.89M474.7 149.89V153.29M478.1 149.89V153.29" stroke="#009e73" stroke-width="1" fill="none"/>
<path d="M475.8 150.3L479.2 153.7M475.8 153.7L479.2 150.3M475.8 150.3V153.7M479.2 150.3V153.7" stroke="#009e73" stroke-width="1" fill="none"/>
<path d="M481.65 151.95L484.75 155.05M481.65 155.05L484.75 151.95M481.65 151.95V155.05M484.75 151.95V155.05" stroke="#009e73" stroke-width="0.85" fill="none"/>
<path d="M488.65 153.15L491.75 156.25M488.65 156.25L491.75 153.15M488.65 153.15V156.25M491.75 153.15V156.25" stroke="#009e73" stroke-width="0.85" fill="none"/>
<path d="M495.35 154.25L498.45 157.35M495.35 157.35L498.45 154.25M495.35 154.25V157.35M498.45 154.25V157.35" stroke="#009e73" stroke-width="0.85" fill="none"/>
<path d="M501.75 155.05L504.85 158.15M501.75 158.15L504.85 155.05M501.75 155.05V158.15M504.85 155.05V158.15" stroke="#009e73" stroke-width="0.85" fill="none"/>
<path d="M508.55 155.55L511.65 158.65M508.55 158.65L511.65 155.55M508.55 155.55V158.65M511.65 155.55V158.65" stroke="#009e73" stroke-width="0.85" fill="none"/>
<path d="M515.15 156.15L518.25 159.25M515.15 159.25L518.25 156.15M515.15 156.15V159.25M518.25 156.15V159.25" stroke="#009e73" stroke-width="0.85" fill="none"/>
<path d="M521.85 156.45L524.95 159.55M521.85 159.55L524.95 156.45M521.85 156.45V159.55M524.95 156.45V159.55" stroke="#009e73" stroke-width="0.85" fill="none"/>
<path d="M528.45 156.45L531.55 159.55M528.45 159.55L531.55 156.45M528.45 156.45V159.55M531.55 156.45V159.55" stroke="#009e73" stroke-width="0.85" fill="none"/>
<path d="M535.35 156.35L538.45 159.45M535.35 159.45L538.45 156.35M535.35 156.35V159.45M538.45 156.35V159.45" stroke="#009e73" stroke-width="0.85" fill="none"/>
<path d="M541.85 156.25L544.95 159.35M541.85 159.35L544.95 156.25M541.85 156.25V159.35M544.95 156.25V159.35" stroke="#009e73" stroke-width="0.85" fill="none"/>
<path d="M548.65 155.95L551.75 159.05M548.65 159.05L551.75 155.95M548.65 155.95V159.05M551.75 155.95V159.05" stroke="#009e73" stroke-width="0.85" fill="none"/>
<path d="M555.45 155.45L558.55 158.55M555.45 158.55L558.55 155.45M555.45 155.45V158.55M558.55 155.45V158.55" stroke="#009e73" stroke-width="0.85" fill="none"/>
<path d="M561.85 154.95L564.95 158.05M561.85 158.05L564.95 154.95M561.85 154.95V158.05M564.95 154.95V158.05" stroke="#009e73" stroke-width="0.85" fill="none"/>
<path d="M568.65 154.15L571.75 157.25M568.65 157.25L571.75 154.15M568.65 154.15V157.25M571.75 154.15V157.25" stroke="#009e73" stroke-width="0.85" fill="none"/>
<path d="M575.15 153.25L578.25 156.35M575.15 156.35L578.25 153.25M575.15 153.25V156.35M578.25 153.25V156.35" stroke="#009e73" stroke-width="0.85" fill="none"/>
<path d="M581.85 152.35L584.95 155.45M581.85 155.45L584.95 152.35M581.85 152.35V155.45M584.95 152.35V155.45" stroke="#009e73" stroke-width="0.85" fill="none"/>
<path d="M588.45 151.55L591.55 154.65M588.45 154.65L591.55 151.55M588.45 151.55V154.65M591.55 151.55V154.65" stroke="#009e73" stroke-width="0.85" fill="none"/>
<path d="M595.15 150.45L598.25 153.55M595.15 153.55L598.25 150.45M595.15 150.45V153.55M598.25 150.45V153.55" stroke="#009e73" stroke-width="0.85" fill="none"/>
<path d="M601.75 149.45L604.85 152.55M601.75 152.55L604.85 149.45M601.75 149.45V152.55M604.85 149.45V152.55" stroke="#009e73" stroke-width="0.85" fill="none"/>
<path d="M608.35 148.05L611.45 151.15M608.35 151.15L611.45 148.05M608.35 148.05V151.15M611.45 148.05V151.15" stroke="#009e73" stroke-width="0.85" fill="none"/>
<path d="M614.95 146.75L618.05 149.85M614.95 149.85L618.05 146.75M614.95 146.75V149.85M618.05 146.75V149.85" stroke="#009e73" stroke-width="0.85" fill="none"/>
<path d="M621.55 145.45L624.65 148.55M621.55 148.55L624.65 145.45M621.55 145.45V148.55M624.65 145.45V148.55" stroke="#009e73" stroke-width="0.85" fill="none"/>
<path d="M628.45 144.45L631.55 147.55M628.45 147.55L631.55 144.45M628.45 144.45V147.55M631.55 144.45V147.55" stroke="#009e73" stroke-width="0.85" fill="none"/>
<path d="M635.15 143.15L638.25 146.25M635.15 146.25L638.25 143.15M635.15 143.15V146.25M638.25 143.15V146.25" stroke="#009e73" stroke-width="0.85" fill="none"/>
<path d="M641.85 141.85L644.95 144.95M641.85 144.95L644.95 141.85M641.85 141.85V144.95M644.95 141.85V144.95" stroke="#009e73" stroke-width="0.85" fill="none"/>
<path d="M648.45 140.45L651.55 143.55M648.45 143.55L651.55 140.45M648.45 140.45V143.55M651.55 140.45V143.55" stroke="#009e73" stroke-width="0.85" fill="none"/>
<path d="M655.05 138.85L658.15 141.95M655.05 141.95L658.15 138.85M655.05 138.85V141.95M658.15 138.85V141.95" stroke="#009e73" stroke-width="0.85" fill="none"/>
<path d="M661.75 137.45L664.85 140.55M661.75 140.55L664.85 137.45M661.75 137.45V140.55M664.85 137.45V140.55" stroke="#009e73" stroke-width="0.85" fill="none"/>
<path d="M668.25 135.85L671.35 138.95M668.25 138.95L671.35 135.85M668.25 135.85V138.95M671.35 135.85V138.95" stroke="#009e73" stroke-width="0.85" fill="none"/>
<path d="M675.15 134.25L678.25 137.35M675.15 137.35L678.25 134.25M675.15 134.25V137.35M678.25 134.25V137.35" stroke="#009e73" stroke-width="0.85" fill="none"/>
<path d="M395.8 136.4 L400 136 L405 136.2 L409 137 L413 138.3 L417 139.6 L421 140.5 L425 140.9 L430 141 L435 140.8 L440 140.3 L445 139.7 L450 139 L455 138.3 L460 137.6 L465 137 L470 136.3 L474 135.7 L477.8 135.1" stroke="#56b4e9" stroke-width="2.8" fill="none" stroke-linecap="round" stroke-linejoin="round"/>
<path d="M394.1 134.79L397.5 138.19M394.1 138.19L397.5 134.79M394.1 136.49H397.5M395.8 134.79V138.19" stroke="#56b4e9" stroke-width="1" fill="none"/>
<path d="M395.15 134.34L398.55 137.74M395.15 137.74L398.55 134.34M395.15 136.04H398.55M396.85 134.34V137.74" stroke="#56b4e9" stroke-width="1" fill="none"/>
<path d="M396.2 134.96L399.6 138.36M396.2 138.36L399.6 134.96M396.2 136.66H399.6M397.9 134.96V138.36" stroke="#56b4e9" stroke-width="1" fill="none"/>
<path d="M397.25 134.85L400.65 138.25M397.25 138.25L400.65 134.85M397.25 136.55H400.65M398.95 134.85V138.25" stroke="#56b4e9" stroke-width="1" fill="none"/>
<path d="M398.3 134.65L401.7 138.05M398.3 138.05L401.7 134.65M398.3 136.35H401.7M400 134.65V138.05" stroke="#56b4e9" stroke-width="1" fill="none"/>
<path d="M399.55 134.32L402.95 137.72M399.55 137.72L402.95 134.32M399.55 136.02H402.95M401.25 134.32V137.72" stroke="#56b4e9" stroke-width="1" fill="none"/>
<path d="M400.8 134.74L404.2 138.14M400.8 138.14L404.2 134.74M400.8 136.44H404.2M402.5 134.74V138.14" stroke="#56b4e9" stroke-width="1" fill="none"/>
<path d="M402.05 134.08L405.45 137.48M402.05 137.48L405.45 134.08M402.05 135.78H405.45M403.75 134.08V137.48" stroke="#56b4e9" stroke-width="1" fill="none"/>
<path d="M403.3 134.31L406.7 137.71M403.3 137.71L406.7 134.31M403.3 136.01H406.7M405 134.31V137.71" stroke="#56b4e9" stroke-width="1" fill="none"/>
<path d="M404.63 134.73L408.03 138.13M404.63 138.13L408.03 134.73M404.63 136.43H408.03M406.33 134.73V138.13" stroke="#56b4e9" stroke-width="1" fill="none"/>
<path d="M405.97 135.28L409.37 138.68M405.97 138.68L409.37 135.28M405.97 136.98H409.37M407.67 135.28V138.68" stroke="#56b4e9" stroke-width="1" fill="none"/>
<path d="M407.3 135.29L410.7 138.69M407.3 138.69L410.7 135.29M407.3 136.99H410.7M409 135.29V138.69" stroke="#56b4e9" stroke-width="1" fill="none"/>
<path d="M408.3 135.26L411.7 138.66M408.3 138.66L411.7 135.26M408.3 136.96H411.7M410 135.26V138.66" stroke="#56b4e9" stroke-width="1" fill="none"/>
<path d="M409.3 135.79L412.7 139.19M409.3 139.19L412.7 135.79M409.3 137.49H412.7M411 135.79V139.19" stroke="#56b4e9" stroke-width="1" fill="none"/>
<path d="M410.3 136.1L413.7 139.5M410.3 139.5L413.7 136.1M410.3 137.8H413.7M412 136.1V139.5" stroke="#56b4e9" stroke-width="1" fill="none"/>
<path d="M411.3 136.4L414.7 139.8M411.3 139.8L414.7 136.4M411.3 138.1H414.7M413 136.4V139.8" stroke="#56b4e9" stroke-width="1" fill="none"/>
<path d="M412.3 136.59L415.7 139.99M412.3 139.99L415.7 136.59M412.3 138.29H415.7M414 136.59V139.99" stroke="#56b4e9" stroke-width="1" fill="none"/>
<path d="M413.3 137.16L416.7 140.56M413.3 140.56L416.7 137.16M413.3 138.86H416.7M415 137.16V140.56" stroke="#56b4e9" stroke-width="1" fill="none"/>
<path d="M414.3 137.52L417.7 140.92M414.3 140.92L417.7 137.52M414.3 139.22H417.7M416 137.52V140.92" stroke="#56b4e9" stroke-width="1" fill="none"/>
<path d="M415.3 138.17L418.7 141.57M415.3 141.57L418.7 138.17M415.3 139.87H418.7M417 138.17V141.57" stroke="#56b4e9" stroke-width="1" fill="none"/>
<path d="M416.63 138.5L420.03 141.9M416.63 141.9L420.03 138.5M416.63 140.2H420.03M418.33 138.5V141.9" stroke="#56b4e9" stroke-width="1" fill="none"/>
<path d="M417.97 138.52L421.37 141.92M417.97 141.92L421.37 138.52M417.97 140.22H421.37M419.67 138.52V141.92" stroke="#56b4e9" stroke-width="1" fill="none"/>
<path d="M419.3 138.76L422.7 142.16M419.3 142.16L422.7 138.76M419.3 140.46H422.7M421 138.76V142.16" stroke="#56b4e9" stroke-width="1" fill="none"/>
<path d="M420.63 139.21L424.03 142.61M420.63 142.61L424.03 139.21M420.63 140.91H424.03M422.33 139.21V142.61" stroke="#56b4e9" stroke-width="1" fill="none"/>
<path d="M421.97 139.45L425.37 142.85M421.97 142.85L425.37 139.45M421.97 141.15H425.37M423.67 139.45V142.85" stroke="#56b4e9" stroke-width="1" fill="none"/>
<path d="M423.3 139.37L426.7 142.77M423.3 142.77L426.7 139.37M423.3 141.07H426.7M425 139.37V142.77" stroke="#56b4e9" stroke-width="1" fill="none"/>
<path d="M424.55 139.53L427.95 142.93M424.55 142.93L427.95 139.53M424.55 141.23H427.95M426.25 139.53V142.93" stroke="#56b4e9" stroke-width="1" fill="none"/>
<path d="M425.8 139.69L429.2 143.09M425.8 143.09L429.2 139.69M425.8 141.39H429.2M427.5 139.69V143.09" stroke="#56b4e9" stroke-width="1" fill="none"/>
<path d="M427.05 138.82L430.45 142.22M427.05 142.22L430.45 138.82M427.05 140.52H430.45M428.75 138.82V142.22" stroke="#56b4e9" stroke-width="1" fill="none"/>
<path d="M428.3 139.68L431.7 143.08M428.3 143.08L431.7 139.68M428.3 141.38H431.7M430 139.68V143.08" stroke="#56b4e9" stroke-width="1" fill="none"/>
<path d="M429.55 139.03L432.95 142.43M429.55 142.43L432.95 139.03M429.55 140.73H432.95M431.25 139.03V142.43" stroke="#56b4e9" stroke-width="1" fill="none"/>
<path d="M430.8 139.18L434.2 142.58M430.8 142.58L434.2 139.18M430.8 140.88H434.2M432.5 139.18V142.58" stroke="#56b4e9" stroke-width="1" fill="none"/>
<path d="M432.05 139.45L435.45 142.85M432.05 142.85L435.45 139.45M432.05 141.15H435.45M433.75 139.45V142.85" stroke="#56b4e9" stroke-width="1" fill="none"/>
<path d="M433.3 139.32L436.7 142.72M433.3 142.72L436.7 139.32M433.3 141.02H436.7M435 139.32V142.72" stroke="#56b4e9" stroke-width="1" fill="none"/>
<path d="M434.55 138.62L437.95 142.02M434.55 142.02L437.95 138.62M434.55 140.32H437.95M436.25 138.62V142.02" stroke="#56b4e9" stroke-width="1" fill="none"/>
<path d="M435.8 139.01L439.2 142.41M435.8 142.41L439.2 139.01M435.8 140.71H439.2M437.5 139.01V142.41" stroke="#56b4e9" stroke-width="1" fill="none"/>
<path d="M437.05 138.29L440.45 141.69M437.05 141.69L440.45 138.29M437.05 139.99H440.45M438.75 138.29V141.69" stroke="#56b4e9" stroke-width="1" fill="none"/>
<path d="M438.3 138.46L441.7 141.86M438.3 141.86L441.7 138.46M438.3 140.16H441.7M440 138.46V141.86" stroke="#56b4e9" stroke-width="1" fill="none"/>
<path d="M439.55 138.76L442.95 142.16M439.55 142.16L442.95 138.76M439.55 140.46H442.95M441.25 138.76V142.16" stroke="#56b4e9" stroke-width="1" fill="none"/>
<path d="M440.8 138.23L444.2 141.63M440.8 141.63L444.2 138.23M440.8 139.93H444.2M442.5 138.23V141.63" stroke="#56b4e9" stroke-width="1" fill="none"/>
<path d="M442.05 138.25L445.45 141.65M442.05 141.65L445.45 138.25M442.05 139.95H445.45M443.75 138.25V141.65" stroke="#56b4e9" stroke-width="1" fill="none"/>
<path d="M443.3 138.23L446.7 141.63M443.3 141.63L446.7 138.23M443.3 139.93H446.7M445 138.23V141.63" stroke="#56b4e9" stroke-width="1" fill="none"/>
<path d="M444.55 138.15L447.95 141.55M444.55 141.55L447.95 138.15M444.55 139.85H447.95M446.25 138.15V141.55" stroke="#56b4e9" stroke-width="1" fill="none"/>
<path d="M445.8 137.91L449.2 141.31M445.8 141.31L449.2 137.91M445.8 139.61H449.2M447.5 137.91V141.31" stroke="#56b4e9" stroke-width="1" fill="none"/>
<path d="M447.05 136.98L450.45 140.38M447.05 140.38L450.45 136.98M447.05 138.68H450.45M448.75 136.98V140.38" stroke="#56b4e9" stroke-width="1" fill="none"/>
<path d="M448.3 137.22L451.7 140.62M448.3 140.62L451.7 137.22M448.3 138.92H451.7M450 137.22V140.62" stroke="#56b4e9" stroke-width="1" fill="none"/>
<path d="M449.55 137.09L452.95 140.49M449.55 140.49L452.95 137.09M449.55 138.79H452.95M451.25 137.09V140.49" stroke="#56b4e9" stroke-width="1" fill="none"/>
<path d="M450.8 136.51L454.2 139.91M450.8 139.91L454.2 136.51M450.8 138.21H454.2M452.5 136.51V139.91" stroke="#56b4e9" stroke-width="1" fill="none"/>
<path d="M452.05 136.82L455.45 140.22M452.05 140.22L455.45 136.82M452.05 138.52H455.45M453.75 136.82V140.22" stroke="#56b4e9" stroke-width="1" fill="none"/>
<path d="M453.3 136.71L456.7 140.11M453.3 140.11L456.7 136.71M453.3 138.41H456.7M455 136.71V140.11" stroke="#56b4e9" stroke-width="1" fill="none"/>
<path d="M454.55 136.75L457.95 140.15M454.55 140.15L457.95 136.75M454.55 138.45H457.95M456.25 136.75V140.15" stroke="#56b4e9" stroke-width="1" fill="none"/>
<path d="M455.8 136.69L459.2 140.09M455.8 140.09L459.2 136.69M455.8 138.39H459.2M457.5 136.69V140.09" stroke="#56b4e9" stroke-width="1" fill="none"/>
<path d="M457.05 135.7L460.45 139.1M457.05 139.1L460.45 135.7M457.05 137.4H460.45M458.75 135.7V139.1" stroke="#56b4e9" stroke-width="1" fill="none"/>
<path d="M458.3 135.63L461.7 139.03M458.3 139.03L461.7 135.63M458.3 137.33H461.7M460 135.63V139.03" stroke="#56b4e9" stroke-width="1" fill="none"/>
<path d="M459.55 135.91L462.95 139.31M459.55 139.31L462.95 135.91M459.55 137.61H462.95M461.25 135.91V139.31" stroke="#56b4e9" stroke-width="1" fill="none"/>
<path d="M460.8 135.23L464.2 138.63M460.8 138.63L464.2 135.23M460.8 136.93H464.2M462.5 135.23V138.63" stroke="#56b4e9" stroke-width="1" fill="none"/>
<path d="M462.05 135.17L465.45 138.57M462.05 138.57L465.45 135.17M462.05 136.87H465.45M463.75 135.17V138.57" stroke="#56b4e9" stroke-width="1" fill="none"/>
<path d="M463.3 135.37L466.7 138.77M463.3 138.77L466.7 135.37M463.3 137.07H466.7M465 135.37V138.77" stroke="#56b4e9" stroke-width="1" fill="none"/>
<path d="M464.55 134.79L467.95 138.19M464.55 138.19L467.95 134.79M464.55 136.49H467.95M466.25 134.79V138.19" stroke="#56b4e9" stroke-width="1" fill="none"/>
<path d="M465.8 135.23L469.2 138.63M465.8 138.63L469.2 135.23M465.8 136.93H469.2M467.5 135.23V138.63" stroke="#56b4e9" stroke-width="1" fill="none"/>
<path d="M467.05 135.13L470.45 138.53M467.05 138.53L470.45 135.13M467.05 136.83H470.45M468.75 135.13V138.53" stroke="#56b4e9" stroke-width="1" fill="none"/>
<path d="M468.3 134.13L471.7 137.53M468.3 137.53L471.7 134.13M468.3 135.83H471.7M470 134.13V137.53" stroke="#56b4e9" stroke-width="1" fill="none"/>
<path d="M469.63 134.43L473.03 137.83M469.63 137.83L473.03 134.43M469.63 136.13H473.03M471.33 134.43V137.83" stroke="#56b4e9" stroke-width="1" fill="none"/>
<path d="M470.97 134.5L474.37 137.9M470.97 137.9L474.37 134.5M470.97 136.2H474.37M472.67 134.5V137.9" stroke="#56b4e9" stroke-width="1" fill="none"/>
<path d="M472.3 134.48L475.7 137.88M472.3 137.88L475.7 134.48M472.3 136.18H475.7M474 134.48V137.88" stroke="#56b4e9" stroke-width="1" fill="none"/>
<path d="M473.57 133.57L476.97 136.97M473.57 136.97L476.97 133.57M473.57 135.27H476.97M475.27 133.57V136.97" stroke="#56b4e9" stroke-width="1" fill="none"/>
<path d="M474.83 133.27L478.23 136.67M474.83 136.67L478.23 133.27M474.83 134.97H478.23M476.53 133.27V136.67" stroke="#56b4e9" stroke-width="1" fill="none"/>
<path d="M476.1 133.4L479.5 136.8M476.1 136.8L479.5 133.4M476.1 135.1H479.5M477.8 133.4V136.8" stroke="#56b4e9" stroke-width="1" fill="none"/>
<path d="M481.6 132.1L484.8 135.3M481.6 135.3L484.8 132.1M481.6 133.7H484.8M483.2 132.1V135.3" stroke="#56b4e9" stroke-width="0.85" fill="none"/>
<path d="M495.3 129.4L498.5 132.6M495.3 132.6L498.5 129.4M495.3 131H498.5M496.9 129.4V132.6" stroke="#56b4e9" stroke-width="0.85" fill="none"/>
<path d="M501.7 127.9L504.9 131.1M501.7 131.1L504.9 127.9M501.7 129.5H504.9M503.3 127.9V131.1" stroke="#56b4e9" stroke-width="0.85" fill="none"/>
<path d="M508.5 126.6L511.7 129.8M508.5 129.8L511.7 126.6M508.5 128.2H511.7M510.1 126.6V129.8" stroke="#56b4e9" stroke-width="0.85" fill="none"/>
<path d="M515.1 125.2L518.3 128.4M515.1 128.4L518.3 125.2M515.1 126.8H518.3M516.7 125.2V128.4" stroke="#56b4e9" stroke-width="0.85" fill="none"/>
<path d="M521.8 123.9L525 127.1M521.8 127.1L525 123.9M521.8 125.5H525M523.4 123.9V127.1" stroke="#56b4e9" stroke-width="0.85" fill="none"/>
<path d="M528.2 122.3L531.4 125.5M528.2 125.5L531.4 122.3M528.2 123.9H531.4M529.8 122.3V125.5" stroke="#56b4e9" stroke-width="0.85" fill="none"/>
<path d="M535.3 120.9L538.5 124.1M535.3 124.1L538.5 120.9M535.3 122.5H538.5M536.9 120.9V124.1" stroke="#56b4e9" stroke-width="0.85" fill="none"/>
<path d="M541.7 119.7L544.9 122.9M541.7 122.9L544.9 119.7M541.7 121.3H544.9M543.3 119.7V122.9" stroke="#56b4e9" stroke-width="0.85" fill="none"/>
<path d="M548.5 118.2L551.7 121.4M548.5 121.4L551.7 118.2M548.5 119.8H551.7M550.1 118.2V121.4" stroke="#56b4e9" stroke-width="0.85" fill="none"/>
<path d="M588.5 110.6L591.7 113.8M588.5 113.8L591.7 110.6M588.5 112.2H591.7M590.1 110.6V113.8" stroke="#56b4e9" stroke-width="0.85" fill="none"/>
<path d="M614.9 105.9L618.1 109.1M614.9 109.1L618.1 105.9M614.9 107.5H618.1M616.5 105.9V109.1" stroke="#56b4e9" stroke-width="0.85" fill="none"/>
<path d="M621.6 104.9L624.8 108.1M621.6 108.1L624.8 104.9M621.6 106.5H624.8M623.2 104.9V108.1" stroke="#56b4e9" stroke-width="0.85" fill="none"/>
<path d="M628.1 103.5L631.3 106.7M628.1 106.7L631.3 103.5M628.1 105.1H631.3M629.7 103.5V106.7" stroke="#56b4e9" stroke-width="0.85" fill="none"/>
<path d="M634.8 102.3L638 105.5M634.8 105.5L638 102.3M634.8 103.9H638M636.4 102.3V105.5" stroke="#56b4e9" stroke-width="0.85" fill="none"/>
<path d="M641.7 101.2L644.9 104.4M641.7 104.4L644.9 101.2M641.7 102.8H644.9M643.3 101.2V104.4" stroke="#56b4e9" stroke-width="0.85" fill="none"/>
<path d="M648.4 100.2L651.6 103.4M648.4 103.4L651.6 100.2M648.4 101.8H651.6M650 100.2V103.4" stroke="#56b4e9" stroke-width="0.85" fill="none"/>
<path d="M655.1 99.2L658.3 102.4M655.1 102.4L658.3 99.2M655.1 100.8H658.3M656.7 99.2V102.4" stroke="#56b4e9" stroke-width="0.85" fill="none"/>
<path d="M661.7 98.2L664.9 101.4M661.7 101.4L664.9 98.2M661.7 99.8H664.9M663.3 98.2V101.4" stroke="#56b4e9" stroke-width="0.85" fill="none"/>
<path d="M668.4 97.2L671.6 100.4M668.4 100.4L671.6 97.2M668.4 98.8H671.6M670 97.2V100.4" stroke="#56b4e9" stroke-width="0.85" fill="none"/>
<path d="M675.3 96.2L678.5 99.4M675.3 99.4L678.5 96.2M675.3 97.8H678.5M676.9 96.2V99.4" stroke="#56b4e9" stroke-width="0.85" fill="none"/>
<path d="M681.8 95L685 98.2M681.8 98.2L685 95M681.8 96.6H685M683.4 95V98.2" stroke="#56b4e9" stroke-width="0.85" fill="none"/>
<path d="M382.8 130.4h3.6v3.6h-3.6z M383.52 132.2H385.68" stroke="#e69f00" stroke-width="1" fill="none"/>
<path d="M383.4 132.2h3.6v3.6h-3.6z M384.12 134H386.28" stroke="#e69f00" stroke-width="1" fill="none"/>
<path d="M385.1 133.88h3v3h-3z M385.7 135.38H387.5" stroke="#e69f00" stroke-width="0.9" fill="none"/>
<path d="M386.3 133.91h3v3h-3z M386.9 135.41H388.7" stroke="#e69f00" stroke-width="0.9" fill="none"/>
<path d="M387.5 133.2h3v3h-3z M388.1 134.7H389.9" stroke="#e69f00" stroke-width="0.9" fill="none"/>
<path d="M388.7 133.44h3v3h-3z M389.3 134.94H391.1" stroke="#e69f00" stroke-width="0.9" fill="none"/>
<path d="M389.9 133.72h3v3h-3z M390.5 135.22H392.3" stroke="#e69f00" stroke-width="0.9" fill="none"/>
<path d="M390.77 133.18h3v3h-3z M391.37 134.68H393.17" stroke="#e69f00" stroke-width="0.9" fill="none"/>
<path d="M391.63 131.83h3v3h-3z M392.23 133.33H394.03" stroke="#e69f00" stroke-width="0.9" fill="none"/>
<path d="M392.5 131.66h3v3h-3z M393.1 133.16H394.9" stroke="#e69f00" stroke-width="0.9" fill="none"/>
<path d="M393.27 131.21h3v3h-3z M393.88 132.71H395.67" stroke="#e69f00" stroke-width="0.9" fill="none"/>
<path d="M394.05 130.35h3v3h-3z M394.65 131.85H396.45" stroke="#e69f00" stroke-width="0.9" fill="none"/>
<path d="M394.83 129.36h3v3h-3z M395.43 130.86H397.23" stroke="#e69f00" stroke-width="0.9" fill="none"/>
<path d="M395.6 128.64h3v3h-3z M396.2 130.14H398" stroke="#e69f00" stroke-width="0.9" fill="none"/>
<path d="M396.55 128.35h3v3h-3z M397.15 129.85H398.95" stroke="#e69f00" stroke-width="0.9" fill="none"/>
<path d="M397.5 128.34h3v3h-3z M398.1 129.84H399.9" stroke="#e69f00" stroke-width="0.9" fill="none"/>
<path d="M398.45 127.04h3v3h-3z M399.05 128.54H400.85" stroke="#e69f00" stroke-width="0.9" fill="none"/>
<path d="M399.4 126.47h3v3h-3z M400 127.97H401.8" stroke="#e69f00" stroke-width="0.9" fill="none"/>
<path d="M400.35 126.29h3v3h-3z M400.95 127.79H402.75" stroke="#e69f00" stroke-width="0.9" fill="none"/>
<path d="M401.3 125.46h3v3h-3z M401.9 126.96H403.7" stroke="#e69f00" stroke-width="0.9" fill="none"/>
<path d="M402.25 125.02h3v3h-3z M402.85 126.52H404.65" stroke="#e69f00" stroke-width="0.9" fill="none"/>
<path d="M403.2 124.36h3v3h-3z M403.8 125.86H405.6" stroke="#e69f00" stroke-width="0.9" fill="none"/>
<path d="M404.15 124.32h3v3h-3z M404.75 125.82H406.55" stroke="#e69f00" stroke-width="0.9" fill="none"/>
<path d="M405.1 123.96h3v3h-3z M405.7 125.46H407.5" stroke="#e69f00" stroke-width="0.9" fill="none"/>
<path d="M406.05 123.16h3v3h-3z M406.65 124.66H408.45" stroke="#e69f00" stroke-width="0.9" fill="none"/>
<path d="M407 122.33h3v3h-3z M407.6 123.83H409.4" stroke="#e69f00" stroke-width="0.9" fill="none"/>
<path d="M407.95 122.01h3v3h-3z M408.55 123.51H410.35" stroke="#e69f00" stroke-width="0.9" fill="none"/>
<path d="M408.9 121.76h3v3h-3z M409.5 123.26H411.3" stroke="#e69f00" stroke-width="0.9" fill="none"/>
<path d="M409.85 121.59h3v3h-3z M410.45 123.09H412.25" stroke="#e69f00" stroke-width="0.9" fill="none"/>
<path d="M410.8 121.13h3v3h-3z M411.4 122.63H413.2" stroke="#e69f00" stroke-width="0.9" fill="none"/>
<path d="M411.75 119.86h3v3h-3z M412.35 121.36H414.15" stroke="#e69f00" stroke-width="0.9" fill="none"/>
<path d="M412.7 119.11h3v3h-3z M413.3 120.61H415.1" stroke="#e69f00" stroke-width="0.9" fill="none"/>
<path d="M413.65 119.48h3v3h-3z M414.25 120.98H416.05" stroke="#e69f00" stroke-width="0.9" fill="none"/>
<path d="M414.6 119.13h3v3h-3z M415.2 120.63H417" stroke="#e69f00" stroke-width="0.9" fill="none"/>
<path d="M415.55 118.21h3v3h-3z M416.15 119.71H417.95" stroke="#e69f00" stroke-width="0.9" fill="none"/>
<path d="M416.5 118.07h3v3h-3z M417.1 119.57H418.9" stroke="#e69f00" stroke-width="0.9" fill="none"/>
<path d="M417.45 117.72h3v3h-3z M418.05 119.22H419.85" stroke="#e69f00" stroke-width="0.9" fill="none"/>
<path d="M418.4 116.9h3v3h-3z M419 118.4H420.8" stroke="#e69f00" stroke-width="0.9" fill="none"/>
<rect x="422.1" y="114.9" width="3.6" height="3.6" fill="#e69f00"/>
<path d="M427.8 111.81h3v3h-3z M428.4 113.31H430.2" stroke="#e69f00" stroke-width="0.9" fill="none"/>
<path d="M428.75 111.71h3v3h-3z M429.35 113.21H431.15" stroke="#e69f00" stroke-width="0.9" fill="none"/>
<path d="M429.7 110.49h3v3h-3z M430.3 111.99H432.1" stroke="#e69f00" stroke-width="0.9" fill="none"/>
<path d="M430.65 110.37h3v3h-3z M431.25 111.87H433.05" stroke="#e69f00" stroke-width="0.9" fill="none"/>
<path d="M431.6 110.01h3v3h-3z M432.2 111.51H434" stroke="#e69f00" stroke-width="0.9" fill="none"/>
<path d="M432.55 109.49h3v3h-3z M433.15 110.99H434.95" stroke="#e69f00" stroke-width="0.9" fill="none"/>
<path d="M433.5 109.91h3v3h-3z M434.1 111.41H435.9" stroke="#e69f00" stroke-width="0.9" fill="none"/>
<path d="M434.5 108.6h3v3h-3z M435.1 110.1H436.9" stroke="#e69f00" stroke-width="0.9" fill="none"/>
<path d="M435.5 108.81h3v3h-3z M436.1 110.31H437.9" stroke="#e69f00" stroke-width="0.9" fill="none"/>
<path d="M436.5 107.77h3v3h-3z M437.1 109.27H438.9" stroke="#e69f00" stroke-width="0.9" fill="none"/>
<path d="M437.5 107.63h3v3h-3z M438.1 109.13H439.9" stroke="#e69f00" stroke-width="0.9" fill="none"/>
<path d="M438.5 107.25h3v3h-3z M439.1 108.75H440.9" stroke="#e69f00" stroke-width="0.9" fill="none"/>
<path d="M439.5 106.58h3v3h-3z M440.1 108.08H441.9" stroke="#e69f00" stroke-width="0.9" fill="none"/>
<path d="M440.5 106.52h3v3h-3z M441.1 108.02H442.9" stroke="#e69f00" stroke-width="0.9" fill="none"/>
<path d="M441.5 106.13h3v3h-3z M442.1 107.63H443.9" stroke="#e69f00" stroke-width="0.9" fill="none"/>
<path d="M442.5 105.52h3v3h-3z M443.1 107.02H444.9" stroke="#e69f00" stroke-width="0.9" fill="none"/>
<path d="M443.5 105.54h3v3h-3z M444.1 107.04H445.9" stroke="#e69f00" stroke-width="0.9" fill="none"/>
<path d="M444.5 104.56h3v3h-3z M445.1 106.06H446.9" stroke="#e69f00" stroke-width="0.9" fill="none"/>
<path d="M445.5 104.19h3v3h-3z M446.1 105.69H447.9" stroke="#e69f00" stroke-width="0.9" fill="none"/>
<path d="M446.5 104h3v3h-3z M447.1 105.5H448.9" stroke="#e69f00" stroke-width="0.9" fill="none"/>
<path d="M447.5 103.66h3v3h-3z M448.1 105.16H449.9" stroke="#e69f00" stroke-width="0.9" fill="none"/>
<path d="M448.5 103.13h3v3h-3z M449.1 104.63H450.9" stroke="#e69f00" stroke-width="0.9" fill="none"/>
<path d="M449.5 103.49h3v3h-3z M450.1 104.99H451.9" stroke="#e69f00" stroke-width="0.9" fill="none"/>
<path d="M450.5 103.04h3v3h-3z M451.1 104.54H452.9" stroke="#e69f00" stroke-width="0.9" fill="none"/>
<path d="M451.5 101.96h3v3h-3z M452.1 103.46H453.9" stroke="#e69f00" stroke-width="0.9" fill="none"/>
<path d="M452.5 102h3v3h-3z M453.1 103.5H454.9" stroke="#e69f00" stroke-width="0.9" fill="none"/>
<path d="M456.5 100.1h3v3h-3z M457.1 101.6H458.9" stroke="#e69f00" stroke-width="0.9" fill="none"/>
<path d="M462.5 98.2h3v3h-3z M463.1 99.7H464.9" stroke="#e69f00" stroke-width="0.9" fill="none"/>
<path d="M468 96.8h3v3h-3z M468.6 98.3H470.4" stroke="#e69f00" stroke-width="0.9" fill="none"/>
<path d="M471.6 95.2h3v3h-3z M472.2 96.7H474" stroke="#e69f00" stroke-width="0.9" fill="none"/>
<path d="M475.3 94h3v3h-3z M475.9 95.5H477.7" stroke="#e69f00" stroke-width="0.9" fill="none"/>
<path d="M482.1 92.4h3v3h-3z M482.7 93.9H484.5" stroke="#e69f00" stroke-width="0.9" fill="none"/>
<path d="M488.8 90.2h3v3h-3z M489.4 91.7H491.2" stroke="#e69f00" stroke-width="0.9" fill="none"/>
<path d="M495.3 88.5h3v3h-3z M495.9 90H497.7" stroke="#e69f00" stroke-width="0.9" fill="none"/>
<path d="M502.2 87.3h3v3h-3z M502.8 88.8H504.6" stroke="#e69f00" stroke-width="0.9" fill="none"/>
<path d="M515.4 84.2h3v3h-3z M516 85.7H517.8" stroke="#e69f00" stroke-width="0.9" fill="none"/>
<path d="M522 82.9h3v3h-3z M522.6 84.4H524.4" stroke="#e69f00" stroke-width="0.9" fill="none"/>
<path d="M528.7 81.5h3v3h-3z M529.3 83H531.1" stroke="#e69f00" stroke-width="0.9" fill="none"/>
<path d="M535.5 80.4h3v3h-3z M536.1 81.9H537.9" stroke="#e69f00" stroke-width="0.9" fill="none"/>
<path d="M541.9 79.1h3v3h-3z M542.5 80.6H544.3" stroke="#e69f00" stroke-width="0.9" fill="none"/>
<path d="M548.5 77.8h3v3h-3z M549.1 79.3H550.9" stroke="#e69f00" stroke-width="0.9" fill="none"/>
<path d="M555.2 76.9h3v3h-3z M555.8 78.4H557.6" stroke="#e69f00" stroke-width="0.9" fill="none"/>
<path d="M562 75.8h3v3h-3z M562.6 77.3H564.4" stroke="#e69f00" stroke-width="0.9" fill="none"/>
<path d="M568.6 74.9h3v3h-3z M569.2 76.4H571" stroke="#e69f00" stroke-width="0.9" fill="none"/>
<path d="M575.3 73.8h3v3h-3z M575.9 75.3H577.7" stroke="#e69f00" stroke-width="0.9" fill="none"/>
<path d="M582.1 73.1h3v3h-3z M582.7 74.6H584.5" stroke="#e69f00" stroke-width="0.9" fill="none"/>
<path d="M588.6 72.3h3v3h-3z M589.2 73.8H591" stroke="#e69f00" stroke-width="0.9" fill="none"/>
<path d="M601.4 70.8h3v3h-3z M602 72.3H603.8" stroke="#e69f00" stroke-width="0.9" fill="none"/>
<path d="M608.2 69.9h3v3h-3z M608.8 71.4H610.6" stroke="#e69f00" stroke-width="0.9" fill="none"/>
<path d="M615.1 69.2h3v3h-3z M615.7 70.7H617.5" stroke="#e69f00" stroke-width="0.9" fill="none"/>
<path d="M621.9 68.1h3v3h-3z M622.5 69.6H624.3" stroke="#e69f00" stroke-width="0.9" fill="none"/>
<path d="M628.3 67.3h3v3h-3z M628.9 68.8H630.7" stroke="#e69f00" stroke-width="0.9" fill="none"/>
<path d="M635.2 66.6h3v3h-3z M635.8 68.1H637.6" stroke="#e69f00" stroke-width="0.9" fill="none"/>
<path d="M641.8 66.2h3v3h-3z M642.4 67.7H644.2" stroke="#e69f00" stroke-width="0.9" fill="none"/>
<path d="M648.5 65.5h3v3h-3z M649.1 67H650.9" stroke="#e69f00" stroke-width="0.9" fill="none"/>
<path d="M655.3 64.6h3v3h-3z M655.9 66.1H657.7" stroke="#e69f00" stroke-width="0.9" fill="none"/>
<path d="M661.8 63.8h3v3h-3z M662.4 65.3H664.2" stroke="#e69f00" stroke-width="0.9" fill="none"/>
<path d="M668.5 63.3h3v3h-3z M669.1 64.8H670.9" stroke="#e69f00" stroke-width="0.9" fill="none"/>
<path d="M675.3 62.6h3v3h-3z M675.9 64.1H677.7" stroke="#e69f00" stroke-width="0.9" fill="none"/>
<path d="M681.3 62.2h3v3h-3z M681.9 63.7H683.7" stroke="#e69f00" stroke-width="0.9" fill="none"/>
<path d="M399.6 97.3 L402 94.3 L406.2 89.8 L411 85.3 L417.4 80.8 L423 77 L428.6 73.6 L434 70.8 L439.7 68.3 L445 66 L450 64.2 L455 62.6 L460 61.1 L465 59.8 L470.5 58.5 L477.8 57.1" stroke="#f0e442" stroke-width="3.8" fill="none" stroke-linecap="round" stroke-linejoin="round"/>
<rect x="481.65" y="53.65" width="3.3" height="3.3" fill="#f0e442"/>
<rect x="488.32" y="52.57" width="3.3" height="3.3" fill="#f0e442"/>
<rect x="494.99" y="51.56" width="3.3" height="3.3" fill="#f0e442"/>
<rect x="501.66" y="50.46" width="3.3" height="3.3" fill="#f0e442"/>
<rect x="508.33" y="49.45" width="3.3" height="3.3" fill="#f0e442"/>
<rect x="515" y="48.58" width="3.3" height="3.3" fill="#f0e442"/>
<rect x="521.67" y="47.58" width="3.3" height="3.3" fill="#f0e442"/>
<rect x="528.34" y="46.86" width="3.3" height="3.3" fill="#f0e442"/>
<rect x="535.01" y="46.07" width="3.3" height="3.3" fill="#f0e442"/>
<rect x="541.68" y="45.36" width="3.3" height="3.3" fill="#f0e442"/>
<rect x="548.35" y="44.76" width="3.3" height="3.3" fill="#f0e442"/>
<rect x="555.02" y="43.93" width="3.3" height="3.3" fill="#f0e442"/>
<rect x="561.69" y="43.25" width="3.3" height="3.3" fill="#f0e442"/>
<rect x="568.36" y="42.48" width="3.3" height="3.3" fill="#f0e442"/>
<rect x="575.03" y="41.96" width="3.3" height="3.3" fill="#f0e442"/>
<rect x="581.7" y="41.46" width="3.3" height="3.3" fill="#f0e442"/>
<rect x="588.37" y="40.95" width="3.3" height="3.3" fill="#f0e442"/>
<rect x="595.04" y="40.58" width="3.3" height="3.3" fill="#f0e442"/>
<rect x="601.71" y="40.22" width="3.3" height="3.3" fill="#f0e442"/>
<rect x="608.38" y="39.85" width="3.3" height="3.3" fill="#f0e442"/>
<rect x="615.05" y="39.55" width="3.3" height="3.3" fill="#f0e442"/>
<rect x="621.72" y="39.25" width="3.3" height="3.3" fill="#f0e442"/>
<rect x="628.39" y="38.95" width="3.3" height="3.3" fill="#f0e442"/>
<rect x="635.06" y="38.65" width="3.3" height="3.3" fill="#f0e442"/>
<rect x="641.73" y="38.35" width="3.3" height="3.3" fill="#f0e442"/>
<rect x="648.4" y="38.05" width="3.3" height="3.3" fill="#f0e442"/>
<rect x="655.07" y="37.75" width="3.3" height="3.3" fill="#f0e442"/>
<rect x="661.74" y="37.45" width="3.3" height="3.3" fill="#f0e442"/>
<rect x="668.41" y="37.15" width="3.3" height="3.3" fill="#f0e442"/>
<rect x="675.08" y="36.85" width="3.3" height="3.3" fill="#f0e442"/>
<rect x="681.75" y="36.55" width="3.3" height="3.3" fill="#f0e442"/>
<circle cx="393.7" cy="56.5" r="1.5" stroke="#0072b2" stroke-width="1.3" fill="none"/>
<circle cx="396.2" cy="53.6" r="1.5" stroke="#0072b2" stroke-width="1.3" fill="none"/>
<circle cx="403.9" cy="45.8" r="1.45" stroke="#0072b2" stroke-width="1.25" fill="none"/>
<circle cx="404.93" cy="44.85" r="1.45" stroke="#0072b2" stroke-width="1.25" fill="none"/>
<circle cx="405.97" cy="44.19" r="1.45" stroke="#0072b2" stroke-width="1.25" fill="none"/>
<circle cx="407" cy="43.22" r="1.45" stroke="#0072b2" stroke-width="1.25" fill="none"/>
<circle cx="408.18" cy="42.65" r="1.45" stroke="#0072b2" stroke-width="1.25" fill="none"/>
<circle cx="409.35" cy="42.24" r="1.45" stroke="#0072b2" stroke-width="1.25" fill="none"/>
<circle cx="410.52" cy="41.06" r="1.45" stroke="#0072b2" stroke-width="1.25" fill="none"/>
<circle cx="411.7" cy="40.4" r="1.45" stroke="#0072b2" stroke-width="1.25" fill="none"/>
<circle cx="416.4" cy="37.75" r="1.6" stroke="#0072b2" stroke-width="1.2" fill="none"/>
<circle cx="417.55" cy="37.15" r="1.6" stroke="#0072b2" stroke-width="1.2" fill="none"/>
<circle cx="418.7" cy="36.75" r="1.6" stroke="#0072b2" stroke-width="1.2" fill="none"/>
<circle cx="419.85" cy="35.51" r="1.6" stroke="#0072b2" stroke-width="1.2" fill="none"/>
<circle cx="421" cy="35.64" r="1.6" stroke="#0072b2" stroke-width="1.2" fill="none"/>
<circle cx="422.25" cy="35.37" r="1.6" stroke="#0072b2" stroke-width="1.2" fill="none"/>
<circle cx="423.5" cy="34.55" r="1.6" stroke="#0072b2" stroke-width="1.2" fill="none"/>
<circle cx="424.75" cy="33.76" r="1.6" stroke="#0072b2" stroke-width="1.2" fill="none"/>
<circle cx="426" cy="33.67" r="1.6" stroke="#0072b2" stroke-width="1.2" fill="none"/>
<circle cx="427.3" cy="33.25" r="1.6" stroke="#0072b2" stroke-width="1.2" fill="none"/>
<circle cx="428.6" cy="32.74" r="1.6" stroke="#0072b2" stroke-width="1.2" fill="none"/>
<circle cx="429.9" cy="31.77" r="1.6" stroke="#0072b2" stroke-width="1.2" fill="none"/>
<circle cx="431.2" cy="32.13" r="1.6" stroke="#0072b2" stroke-width="1.2" fill="none"/>
<circle cx="432.5" cy="31.66" r="1.6" stroke="#0072b2" stroke-width="1.2" fill="none"/>
<circle cx="433.8" cy="30.72" r="1.6" stroke="#0072b2" stroke-width="1.2" fill="none"/>
<circle cx="435.1" cy="30.49" r="1.6" stroke="#0072b2" stroke-width="1.2" fill="none"/>
<circle cx="436.4" cy="29.54" r="1.6" stroke="#0072b2" stroke-width="1.2" fill="none"/>
<circle cx="437.7" cy="30.09" r="1.6" stroke="#0072b2" stroke-width="1.2" fill="none"/>
<circle cx="439" cy="29.52" r="1.6" stroke="#0072b2" stroke-width="1.2" fill="none"/>
<circle cx="440.3" cy="29" r="1.6" stroke="#0072b2" stroke-width="1.2" fill="none"/>
<circle cx="441.6" cy="28.78" r="1.6" stroke="#0072b2" stroke-width="1.2" fill="none"/>
<circle cx="442.9" cy="27.87" r="1.6" stroke="#0072b2" stroke-width="1.2" fill="none"/>
<circle cx="444.2" cy="27.65" r="1.6" stroke="#0072b2" stroke-width="1.2" fill="none"/>
<circle cx="445.5" cy="27.25" r="1.6" stroke="#0072b2" stroke-width="1.2" fill="none"/>
<circle cx="446.67" cy="27.3" r="1.6" stroke="#0072b2" stroke-width="1.2" fill="none"/>
<circle cx="447.83" cy="26.49" r="1.6" stroke="#0072b2" stroke-width="1.2" fill="none"/>
<circle cx="449" cy="26.6" r="1.6" stroke="#0072b2" stroke-width="1.2" fill="none"/>
<circle cx="453" cy="25.8" r="1.55" stroke="#0072b2" stroke-width="1" fill="none"/>
<line x1="453" y1="24.5" x2="453" y2="27.1" stroke="#0072b2" stroke-width="0.7"/>
<circle cx="455.7" cy="25.5" r="1.55" stroke="#0072b2" stroke-width="1" fill="none"/>
<line x1="455.7" y1="24.2" x2="455.7" y2="26.8" stroke="#0072b2" stroke-width="0.7"/>
<circle cx="458.8" cy="25.4" r="1.55" stroke="#0072b2" stroke-width="1" fill="none"/>
<line x1="458.8" y1="24.1" x2="458.8" y2="26.7" stroke="#0072b2" stroke-width="0.7"/>
<circle cx="467.6" cy="23.9" r="1.55" stroke="#0072b2" stroke-width="1" fill="none"/>
<line x1="467.6" y1="22.6" x2="467.6" y2="25.2" stroke="#0072b2" stroke-width="0.7"/>
<circle cx="478.3" cy="22.4" r="1.55" stroke="#0072b2" stroke-width="1" fill="none"/>
<line x1="478.3" y1="21.1" x2="478.3" y2="23.7" stroke="#0072b2" stroke-width="0.7"/>
<circle cx="492" cy="21.4" r="1.55" stroke="#0072b2" stroke-width="1" fill="none"/>
<line x1="492" y1="20.1" x2="492" y2="22.7" stroke="#0072b2" stroke-width="0.7"/>
<circle cx="505.4" cy="20.5" r="1.55" stroke="#0072b2" stroke-width="1" fill="none"/>
<line x1="505.4" y1="19.2" x2="505.4" y2="21.8" stroke="#0072b2" stroke-width="0.7"/>
<circle cx="519.3" cy="19.9" r="1.55" stroke="#0072b2" stroke-width="1" fill="none"/>
<line x1="519.3" y1="18.6" x2="519.3" y2="21.2" stroke="#0072b2" stroke-width="0.7"/>
<circle cx="532.9" cy="19.3" r="1.55" stroke="#0072b2" stroke-width="1" fill="none"/>
<line x1="532.9" y1="18" x2="532.9" y2="20.6" stroke="#0072b2" stroke-width="0.7"/>
<circle cx="546.5" cy="19" r="1.55" stroke="#0072b2" stroke-width="1" fill="none"/>
<line x1="546.5" y1="17.7" x2="546.5" y2="20.3" stroke="#0072b2" stroke-width="0.7"/>
<circle cx="560.6" cy="18.6" r="1.55" stroke="#0072b2" stroke-width="1" fill="none"/>
<line x1="560.6" y1="17.3" x2="560.6" y2="19.9" stroke="#0072b2" stroke-width="0.7"/>
<circle cx="574" cy="18.4" r="1.55" stroke="#0072b2" stroke-width="1" fill="none"/>
<line x1="574" y1="17.1" x2="574" y2="19.7" stroke="#0072b2" stroke-width="0.7"/>
<circle cx="587.7" cy="18.3" r="1.55" stroke="#0072b2" stroke-width="1" fill="none"/>
<line x1="587.7" y1="17" x2="587.7" y2="19.6" stroke="#0072b2" stroke-width="0.7"/>
<circle cx="601.2" cy="18.2" r="1.55" stroke="#0072b2" stroke-width="1" fill="none"/>
<line x1="601.2" y1="16.9" x2="601.2" y2="19.5" stroke="#0072b2" stroke-width="0.7"/>
<circle cx="614.9" cy="18.2" r="1.55" stroke="#0072b2" stroke-width="1" fill="none"/>
<line x1="614.9" y1="16.9" x2="614.9" y2="19.5" stroke="#0072b2" stroke-width="0.7"/>
<circle cx="628.5" cy="18.1" r="1.55" stroke="#0072b2" stroke-width="1" fill="none"/>
<line x1="628.5" y1="16.8" x2="628.5" y2="19.4" stroke="#0072b2" stroke-width="0.7"/>
<circle cx="642.3" cy="18" r="1.55" stroke="#0072b2" stroke-width="1" fill="none"/>
<line x1="642.3" y1="16.7" x2="642.3" y2="19.3" stroke="#0072b2" stroke-width="0.7"/>
<circle cx="656" cy="17.9" r="1.55" stroke="#0072b2" stroke-width="1" fill="none"/>
<line x1="656" y1="16.6" x2="656" y2="19.2" stroke="#0072b2" stroke-width="0.7"/>
<circle cx="669.7" cy="17.8" r="1.55" stroke="#0072b2" stroke-width="1" fill="none"/>
<line x1="669.7" y1="16.5" x2="669.7" y2="19.1" stroke="#0072b2" stroke-width="0.7"/>
<circle cx="683.1" cy="17.7" r="1.55" stroke="#0072b2" stroke-width="1" fill="none"/>
<line x1="683.1" y1="16.4" x2="683.1" y2="19" stroke="#0072b2" stroke-width="0.7"/>
<circle cx="392.1" cy="134.6" r="1.75" fill="#e51e10"/>
<circle cx="408.2" cy="139.7" r="1.75" fill="#e51e10"/>
<circle cx="424.5" cy="139.3" r="1.75" fill="#e51e10"/>
<circle cx="440.5" cy="143" r="1.75" fill="#e51e10"/>
<circle cx="456.6" cy="145.3" r="1.75" fill="#e51e10"/>
<circle cx="472.9" cy="146.4" r="1.75" fill="#e51e10"/>
<circle cx="489" cy="149.3" r="1.75" fill="#e51e10"/>
<circle cx="505.3" cy="152.4" r="1.75" fill="#e51e10"/>
<circle cx="521.5" cy="154.7" r="1.75" fill="#e51e10"/>
<circle cx="537.7" cy="156.5" r="1.75" fill="#e51e10"/>
<circle cx="554" cy="161" r="1.75" fill="#e51e10"/>
<circle cx="570.2" cy="162.9" r="1.75" fill="#e51e10"/>
<circle cx="586" cy="167.1" r="1.75" fill="#e51e10"/>
<circle cx="602.3" cy="170" r="1.75" fill="#e51e10"/>
<circle cx="618.5" cy="174.6" r="1.75" fill="#e51e10"/>
<circle cx="634.7" cy="180.1" r="1.75" fill="#e51e10"/>
<circle cx="651" cy="188.3" r="1.75" fill="#e51e10"/>
<circle cx="667.3" cy="198" r="1.75" fill="#e51e10"/>
<circle cx="683.2" cy="206.6" r="1.75" fill="#e51e10"/>
<rect x="373.9" y="3.8" width="309.4" height="220" fill="none" stroke="#3a3a3a" stroke-width="1.1"/>
<line x1="373.9" y1="192.36" x2="377.2" y2="192.36" stroke="#3a3a3a" stroke-width="1.1"/>
<line x1="683.3" y1="192.36" x2="680" y2="192.36" stroke="#3a3a3a" stroke-width="1.1"/>
<line x1="373.9" y1="160.93" x2="377.2" y2="160.93" stroke="#3a3a3a" stroke-width="1.1"/>
<line x1="683.3" y1="160.93" x2="680" y2="160.93" stroke="#3a3a3a" stroke-width="1.1"/>
<line x1="373.9" y1="129.5" x2="377.2" y2="129.5" stroke="#3a3a3a" stroke-width="1.1"/>
<line x1="683.3" y1="129.5" x2="680" y2="129.5" stroke="#3a3a3a" stroke-width="1.1"/>
<line x1="373.9" y1="98.07" x2="377.2" y2="98.07" stroke="#3a3a3a" stroke-width="1.1"/>
<line x1="683.3" y1="98.07" x2="680" y2="98.07" stroke="#3a3a3a" stroke-width="1.1"/>
<line x1="373.9" y1="66.64" x2="377.2" y2="66.64" stroke="#3a3a3a" stroke-width="1.1"/>
<line x1="683.3" y1="66.64" x2="680" y2="66.64" stroke="#3a3a3a" stroke-width="1.1"/>
<line x1="373.9" y1="35.22" x2="377.2" y2="35.22" stroke="#3a3a3a" stroke-width="1.1"/>
<line x1="683.3" y1="35.22" x2="680" y2="35.22" stroke="#3a3a3a" stroke-width="1.1"/>
<line x1="423.3" y1="223.8" x2="423.3" y2="220.5" stroke="#3a3a3a" stroke-width="1.1"/>
<line x1="423.3" y1="3.8" x2="423.3" y2="7.1" stroke="#3a3a3a" stroke-width="1.1"/>
<line x1="475.3" y1="223.8" x2="475.3" y2="220.5" stroke="#3a3a3a" stroke-width="1.1"/>
<line x1="475.3" y1="3.8" x2="475.3" y2="7.1" stroke="#3a3a3a" stroke-width="1.1"/>
<line x1="527.3" y1="223.8" x2="527.3" y2="220.5" stroke="#3a3a3a" stroke-width="1.1"/>
<line x1="527.3" y1="3.8" x2="527.3" y2="7.1" stroke="#3a3a3a" stroke-width="1.1"/>
<line x1="579.3" y1="223.8" x2="579.3" y2="220.5" stroke="#3a3a3a" stroke-width="1.1"/>
<line x1="579.3" y1="3.8" x2="579.3" y2="7.1" stroke="#3a3a3a" stroke-width="1.1"/>
<line x1="631.3" y1="223.8" x2="631.3" y2="220.5" stroke="#3a3a3a" stroke-width="1.1"/>
<line x1="631.3" y1="3.8" x2="631.3" y2="7.1" stroke="#3a3a3a" stroke-width="1.1"/>
<text transform="translate(357.42 6.29) scale(1.1003 1)" font-size="8.700" fill="#000" stroke="#000" stroke-width="0">0.8</text>
<text transform="translate(357.42 37.72) scale(1.0910 1)" font-size="8.700" fill="#000" stroke="#000" stroke-width="0">0.6</text>
<text transform="translate(357.43 69.14) scale(1.0773 1)" font-size="8.700" fill="#000" stroke="#000" stroke-width="0">0.4</text>
<text transform="translate(357.41 100.57) scale(1.1146 1)" font-size="8.700" fill="#000" stroke="#000" stroke-width="0">0.2</text>
<text transform="translate(364.53 132) scale(1.0673 1)" font-size="8.700" fill="#000" stroke="#000" stroke-width="0">0</text>
<text transform="translate(351.6 163.43) scale(1.1561 1)" font-size="8.700" fill="#000" stroke="#000" stroke-width="0">−0.2</text>
<text transform="translate(351.61 194.86) scale(1.1297 1)" font-size="8.700" fill="#000" stroke="#000" stroke-width="0">−0.4</text>
<text transform="translate(351.6 226.28) scale(1.1395 1)" font-size="8.700" fill="#000" stroke="#000" stroke-width="0">−0.6</text>
<text transform="translate(421.04 234) scale(1.1200 1)" font-size="8.700" fill="#000" stroke="#000" stroke-width="0">1</text>
<text transform="translate(473.21 234) scale(1.1200 1)" font-size="8.700" fill="#000" stroke="#000" stroke-width="0">2</text>
<text transform="translate(525.14 234) scale(1.1200 1)" font-size="8.700" fill="#000" stroke="#000" stroke-width="0">3</text>
<text transform="translate(577.14 234) scale(1.1200 1)" font-size="8.700" fill="#000" stroke="#000" stroke-width="0">4</text>
<text transform="translate(629.07 234) scale(1.1200 1)" font-size="8.700" fill="#000" stroke="#000" stroke-width="0">5</text>
<text transform="translate(681.12 234) scale(1.1200 1)" font-size="8.700" fill="#000" stroke="#000" stroke-width="0">6</text>
<text transform="translate(523.27 246) scale(0.9766 1)" font-size="8.800" fill="#000" stroke="#000" stroke-width="0">Ω</text>
<text transform="translate(529.39 243.4) scale(1.3814 1)" font-size="6.515" fill="#000" stroke="#000" stroke-width="0">2</text>
<g transform="translate(343.4 121.0) rotate(-90)">
<text transform="translate(0.26 0) scale(1.4130 1)" font-size="8.600" font-style="italic" fill="#000" stroke="#000" stroke-width="0">γ</text>
<text transform="translate(5.5 1.8) scale(1.1035 1)" font-size="6.700" fill="#000" stroke="#000" stroke-width="0">eff</text>
</g>
<text transform="translate(391.06 193.8) scale(1.1115 1)" font-size="8.700" fill="#000" stroke="#000" stroke-width="0.12">λ</text>
<text transform="translate(395.72 195.7) scale(1.5120 1)" font-size="6.000" fill="#000" stroke="#000" stroke-width="0.08">lat</text>
<line x1="407.9" y1="190.9" x2="414" y2="190.9" stroke="#222" stroke-width="0.5"/>
<line x1="407.9" y1="193.3" x2="414" y2="193.3" stroke="#222" stroke-width="0.5"/>
<text transform="translate(416.65 195) scale(1.0187 1)" font-size="8.700" fill="#000" stroke="#000" stroke-width="0">0.25</text>
<line x1="436.4" y1="192.3" x2="459.3" y2="192.3" stroke="#9400d3" stroke-width="1"/>
<line x1="436.4" y1="190.8" x2="436.4" y2="193.8" stroke="#9400d3" stroke-width="1"/>
<line x1="459.3" y1="190.8" x2="459.3" y2="193.8" stroke="#9400d3" stroke-width="1"/>
<path d="M446.2 192.3H449.6M447.9 190.6V194" stroke="#9400d3" stroke-width="1.2" fill="none"/>
<text transform="translate(395.46 201.8) scale(1.1115 1)" font-size="8.700" fill="#000" stroke="#000" stroke-width="0.12">λ</text>
<text transform="translate(400.12 203.7) scale(1.5120 1)" font-size="6.000" fill="#000" stroke="#000" stroke-width="0.08">lat</text>
<line x1="412.3" y1="198.9" x2="418.4" y2="198.9" stroke="#222" stroke-width="0.5"/>
<line x1="412.3" y1="201.3" x2="418.4" y2="201.3" stroke="#222" stroke-width="0.5"/>
<text transform="translate(420.32 203) scale(1.0905 1)" font-size="8.700" fill="#000" stroke="#000" stroke-width="0">0.5</text>
<line x1="436.4" y1="200.3" x2="459.3" y2="200.3" stroke="#009e73" stroke-width="1"/>
<line x1="436.4" y1="198.8" x2="436.4" y2="201.8" stroke="#009e73" stroke-width="1"/>
<line x1="459.3" y1="198.8" x2="459.3" y2="201.8" stroke="#009e73" stroke-width="1"/>
<path d="M446.4 198.8L449.4 201.8M446.4 201.8L449.4 198.8M446.4 198.8V201.8M449.4 198.8V201.8" stroke="#009e73" stroke-width="1.1" fill="none"/>
<text transform="translate(395.46 209.9) scale(1.1115 1)" font-size="8.700" fill="#000" stroke="#000" stroke-width="0.12">λ</text>
<text transform="translate(400.12 211.8) scale(1.5120 1)" font-size="6.000" fill="#000" stroke="#000" stroke-width="0.08">lat</text>
<line x1="412.3" y1="207" x2="418.4" y2="207" stroke="#222" stroke-width="0.5"/>
<line x1="412.3" y1="209.4" x2="418.4" y2="209.4" stroke="#222" stroke-width="0.5"/>
<text transform="translate(419.86 211.1) scale(1.1341 1)" font-size="8.700" fill="#000" stroke="#000" stroke-width="0">1.0</text>
<line x1="436.4" y1="208.4" x2="459.3" y2="208.4" stroke="#56b4e9" stroke-width="1"/>
<line x1="436.4" y1="206.9" x2="436.4" y2="209.9" stroke="#56b4e9" stroke-width="1"/>
<line x1="459.3" y1="206.9" x2="459.3" y2="209.9" stroke="#56b4e9" stroke-width="1"/>
<path d="M446.3 206.8L449.5 210M446.3 210L449.5 206.8M446.3 208.4H449.5M447.9 206.8V210" stroke="#56b4e9" stroke-width="1.1" fill="none"/>
<text transform="translate(395.46 217.9) scale(1.1115 1)" font-size="8.700" fill="#000" stroke="#000" stroke-width="0.12">λ</text>
<text transform="translate(400.12 219.8) scale(1.5120 1)" font-size="6.000" fill="#000" stroke="#000" stroke-width="0.08">lat</text>
<line x1="412.3" y1="215" x2="418.4" y2="215" stroke="#222" stroke-width="0.5"/>
<line x1="412.3" y1="217.4" x2="418.4" y2="217.4" stroke="#222" stroke-width="0.5"/>
<text transform="translate(419.86 219.1) scale(1.1341 1)" font-size="8.700" fill="#000" stroke="#000" stroke-width="0">1.5</text>
<line x1="436.4" y1="216.4" x2="459.3" y2="216.4" stroke="#e69f00" stroke-width="1"/>
<line x1="436.4" y1="214.9" x2="436.4" y2="217.9" stroke="#e69f00" stroke-width="1"/>
<line x1="459.3" y1="214.9" x2="459.3" y2="217.9" stroke="#e69f00" stroke-width="1"/>
<path d="M446.4 214.9h3v3h-3z M447 216.4H448.8" stroke="#e69f00" stroke-width="0.9" fill="none"/>
<text transform="translate(480.83 193.9) scale(1.2378 1)" font-size="8.700" fill="#000" stroke="#000" stroke-width="0.12">λ</text>
<text transform="translate(485.94 195.8) scale(1.3574 1)" font-size="6.000" fill="#000" stroke="#000" stroke-width="0.08">lat</text>
<line x1="497" y1="191" x2="502.9" y2="191" stroke="#222" stroke-width="0.5"/>
<line x1="497" y1="193.4" x2="502.9" y2="193.4" stroke="#222" stroke-width="0.5"/>
<text transform="translate(505.78 195.1) scale(1.0853 1)" font-size="8.700" fill="#000" stroke="#000" stroke-width="0">2.0</text>
<line x1="522.2" y1="192.4" x2="545.5" y2="192.4" stroke="#f0e442" stroke-width="1"/>
<line x1="522.2" y1="190.9" x2="522.2" y2="193.9" stroke="#f0e442" stroke-width="1"/>
<line x1="545.5" y1="190.9" x2="545.5" y2="193.9" stroke="#f0e442" stroke-width="1"/>
<rect x="532.3" y="190.9" width="3" height="3" fill="#f0e442"/>
<text transform="translate(480.83 201.8) scale(1.2378 1)" font-size="8.700" fill="#000" stroke="#000" stroke-width="0.12">λ</text>
<text transform="translate(485.94 203.7) scale(1.3574 1)" font-size="6.000" fill="#000" stroke="#000" stroke-width="0.08">lat</text>
<line x1="497" y1="198.9" x2="502.9" y2="198.9" stroke="#222" stroke-width="0.5"/>
<line x1="497" y1="201.3" x2="502.9" y2="201.3" stroke="#222" stroke-width="0.5"/>
<text transform="translate(505.78 203) scale(1.0853 1)" font-size="8.700" fill="#000" stroke="#000" stroke-width="0">2.5</text>
<line x1="522.2" y1="200.3" x2="545.5" y2="200.3" stroke="#0072b2" stroke-width="1"/>
<line x1="522.2" y1="198.8" x2="522.2" y2="201.8" stroke="#0072b2" stroke-width="1"/>
<line x1="545.5" y1="198.8" x2="545.5" y2="201.8" stroke="#0072b2" stroke-width="1"/>
<circle cx="533.8" cy="200.3" r="1.55" stroke="#0072b2" stroke-width="1" fill="none"/>
<text transform="translate(477.02 211.1) scale(1.0604 1)" font-size="8.700" fill="#000" stroke="#000" stroke-width="0">free theory</text>
<line x1="522.2" y1="208.4" x2="545.5" y2="208.4" stroke="#e51e10" stroke-width="1"/>
<line x1="522.2" y1="206.9" x2="522.2" y2="209.9" stroke="#e51e10" stroke-width="1"/>
<line x1="545.5" y1="206.9" x2="545.5" y2="209.9" stroke="#e51e10" stroke-width="1"/>
<circle cx="533.8" cy="208.4" r="1.75" fill="#e51e10"/>
</g>
</svg></div></body></html>
